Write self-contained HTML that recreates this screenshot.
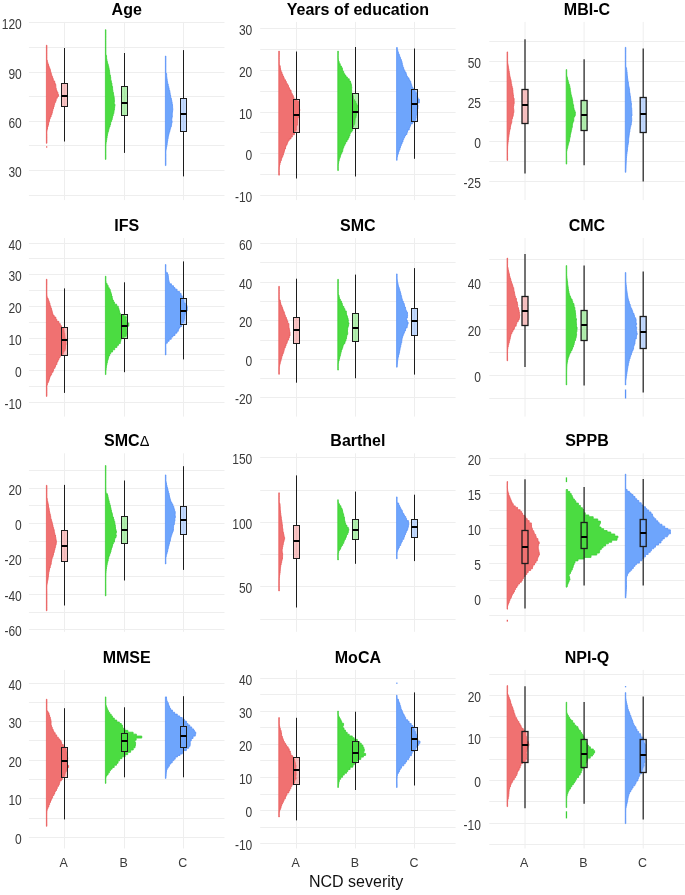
<!DOCTYPE html>
<html><head><meta charset="utf-8"><style>
html,body{margin:0;padding:0;background:#fff;}
body{width:685px;height:895px;overflow:hidden;font-family:"Liberation Sans",sans-serif;}
svg{display:block;filter:blur(0.3px);}
</style></head><body>
<svg width="685" height="895" viewBox="0 0 685 895">
<rect width="685" height="895" fill="#fff"/>
<line x1="28.9" x2="224.5" y1="195.5" y2="195.5" stroke="#EEEEEE" stroke-width="1"/><line x1="28.9" x2="224.5" y1="145.5" y2="145.5" stroke="#EEEEEE" stroke-width="1"/><line x1="28.9" x2="224.5" y1="96.5" y2="96.5" stroke="#EEEEEE" stroke-width="1"/><line x1="28.9" x2="224.5" y1="47.5" y2="47.5" stroke="#EEEEEE" stroke-width="1"/><line x1="28.9" x2="224.5" y1="170.5" y2="170.5" stroke="#EEEEEE" stroke-width="1"/><line x1="28.9" x2="224.5" y1="121.5" y2="121.5" stroke="#EEEEEE" stroke-width="1"/><line x1="28.9" x2="224.5" y1="72.5" y2="72.5" stroke="#EEEEEE" stroke-width="1"/><line x1="28.9" x2="224.5" y1="22.5" y2="22.5" stroke="#EEEEEE" stroke-width="1"/><line x1="64.5" x2="64.5" y1="21.9" y2="200.1" stroke="#EEEEEE" stroke-width="1"/><line x1="124.5" x2="124.5" y1="21.9" y2="200.1" stroke="#EEEEEE" stroke-width="1"/><line x1="183.5" x2="183.5" y1="21.9" y2="200.1" stroke="#EEEEEE" stroke-width="1"/>
<text transform="translate(21.8,177.03) scale(0.865,1)" text-anchor="end" font-family="Liberation Sans, sans-serif" font-size="13.9" fill="#3a3a3a">30</text>
<text transform="translate(21.8,127.8) scale(0.865,1)" text-anchor="end" font-family="Liberation Sans, sans-serif" font-size="13.9" fill="#3a3a3a">60</text>
<text transform="translate(21.8,78.58) scale(0.865,1)" text-anchor="end" font-family="Liberation Sans, sans-serif" font-size="13.9" fill="#3a3a3a">90</text>
<text transform="translate(21.8,29.35) scale(0.865,1)" text-anchor="end" font-family="Liberation Sans, sans-serif" font-size="13.9" fill="#3a3a3a">120</text>
<text x="126.7" y="15" text-anchor="middle" font-family="Liberation Sans, sans-serif" font-weight="bold" font-size="16" fill="#000">Age</text>
<path d="M46.4,45.2 L46.9,45.2 L46.9,47.3 L46.9,47.3 L46.9,49.62 L46.9,49.62 L46.9,51.23 L46.9,51.23 L46.9,52.8 L46.9,52.8 L46.9,54.33 L46.9,54.33 L46.9,56.31 L46.9,56.31 L46.9,58.27 L46.88,58.27 L46.88,60.36 L47.35,60.36 L47.35,62.42 L47.89,62.42 L47.89,64.13 L48.51,64.13 L48.51,65.84 L49.07,65.84 L49.07,67.84 L49.83,67.84 L49.83,69.55 L50.38,69.55 L50.38,71.37 L50.72,71.37 L50.72,72.8 L51.24,72.8 L51.24,74.7 L51.79,74.7 L51.79,76.56 L52.59,76.56 L52.59,78.57 L53.28,78.57 L53.28,80.97 L54.66,80.97 L54.66,82.93 L55.12,82.93 L55.12,84.37 L55.78,84.37 L55.78,86.09 L55.83,86.09 L55.83,88.4 L56.3,88.4 L56.3,90.51 L56.99,90.51 L56.99,92.14 L57.88,92.14 L57.88,94.42 L58.56,94.42 L58.56,96.4 L57.31,96.4 L57.31,98.21 L56.21,98.21 L56.21,100.49 L55.7,100.49 L55.7,102.34 L54.69,102.34 L54.69,104.41 L54.15,104.41 L54.15,106.63 L53.51,106.63 L53.51,108.85 L52.77,108.85 L52.77,111.12 L52.27,111.12 L52.27,113.01 L51.92,113.01 L51.92,114.7 L51.09,114.7 L51.09,116.99 L50.11,116.99 L50.11,119.09 L49.44,119.09 L49.44,121.43 L48.83,121.43 L48.83,123.26 L48.52,123.26 L48.52,125.13 L48.03,125.13 L48.03,126.89 L47.52,126.89 L47.52,129.21 L47.03,129.21 L47.03,131.41 L46.81,131.41 L46.81,133.66 L46.89,133.66 L46.89,135.28 L46.9,135.28 L46.9,136.71 L46.9,136.71 L46.9,138.3 L46.9,138.3 L46.9,139.71 L46.9,139.71 L46.9,141.32 L46.9,141.32 L46.9,143.3 L46.4,143.3Z" fill="#F07171" stroke="#E95C5C" stroke-width="0.8" stroke-linejoin="round"/>
<rect x="46" y="146.3" width="1.3" height="1.3" fill="#E95C5C"/>
<line x1="64.5" x2="64.5" y1="48" y2="83.5" stroke="#1c1c1c" stroke-width="1"/>
<line x1="64.5" x2="64.5" y1="106.5" y2="141.5" stroke="#1c1c1c" stroke-width="1"/>
<rect x="61.5" y="83.5" width="6" height="23" fill="#F07171" fill-opacity="0.42" stroke="#1c1c1c" stroke-width="1"/>
<line x1="61.5" x2="67.5" y1="96" y2="96" stroke="#000" stroke-width="2"/>
<path d="M105.4,29.7 L105.9,29.7 L105.9,31.32 L105.89,31.32 L105.89,33.19 L105.89,33.19 L105.89,35.37 L105.88,35.37 L105.88,36.98 L105.88,36.98 L105.88,38.59 L105.87,38.59 L105.87,40.47 L105.87,40.47 L105.87,42.72 L105.86,42.72 L105.86,44.95 L105.86,44.95 L105.86,46.42 L105.86,46.42 L105.86,48.12 L105.87,48.12 L105.87,49.95 L105.88,49.95 L105.88,52.01 L105.89,52.01 L105.89,54.06 L105.97,54.06 L105.97,55.54 L106.54,55.54 L106.54,57.31 L106.6,57.31 L106.6,59.16 L106.89,59.16 L106.89,61.26 L107.34,61.26 L107.34,62.85 L107.7,62.85 L107.7,64.39 L108.27,64.39 L108.27,66.23 L108.69,66.23 L108.69,67.66 L109.06,67.66 L109.06,69.82 L109.41,69.82 L109.41,71.31 L109.62,71.31 L109.62,73.3 L109.82,73.3 L109.82,75.1 L110.38,75.1 L110.38,76.99 L110.7,76.99 L110.7,79.19 L110.78,79.19 L110.78,80.7 L111.31,80.7 L111.31,83 L111.89,83 L111.89,84.81 L111.95,84.81 L111.95,86.43 L112.55,86.43 L112.55,88.64 L112.64,88.64 L112.64,90.09 L112.83,90.09 L112.83,92.43 L113.45,92.43 L113.45,94.65 L113.78,94.65 L113.78,96.6 L114.14,96.6 L114.14,98.27 L114.3,98.27 L114.3,99.76 L114.39,99.76 L114.39,101.98 L114.2,101.98 L114.2,104.19 L114.93,104.19 L114.93,106.36 L114.59,106.36 L114.59,108.16 L114.4,108.16 L114.4,109.99 L114.07,109.99 L114.07,111.52 L113.89,111.52 L113.89,113.56 L113.19,113.56 L113.19,115.79 L112.55,115.79 L112.55,117.81 L112.17,117.81 L112.17,119.72 L111.55,119.72 L111.55,121.46 L110.74,121.46 L110.74,123.39 L110.54,123.39 L110.54,124.91 L109.92,124.91 L109.92,127.02 L109.13,127.02 L109.13,128.7 L108.78,128.7 L108.78,130.46 L108.32,130.46 L108.32,132.05 L107.82,132.05 L107.82,133.66 L107.43,133.66 L107.43,135.7 L107.06,135.7 L107.06,138.02 L106.71,138.02 L106.71,140.3 L106.39,140.3 L106.39,142.06 L106.04,142.06 L106.04,144.29 L105.92,144.29 L105.92,145.82 L105.89,145.82 L105.89,147.3 L105.87,147.3 L105.87,149.08 L105.86,149.08 L105.86,151.02 L105.87,151.02 L105.87,153.39 L105.87,153.39 L105.87,155 L105.88,155 L105.88,157.19 L105.89,157.19 L105.89,159.19 L105.9,159.19 L105.9,159.4 L105.4,159.4Z" fill="#4BDC41" stroke="#3CCF36" stroke-width="0.8" stroke-linejoin="round"/>
<line x1="124.5" x2="124.5" y1="53" y2="86.5" stroke="#1c1c1c" stroke-width="1"/>
<line x1="124.5" x2="124.5" y1="115.5" y2="152.9" stroke="#1c1c1c" stroke-width="1"/>
<rect x="121.5" y="86.5" width="6" height="29" fill="#4BDC41" fill-opacity="0.42" stroke="#1c1c1c" stroke-width="1"/>
<line x1="121.5" x2="127.5" y1="103" y2="103" stroke="#000" stroke-width="2"/>
<path d="M165.4,56 L165.89,56 L165.89,58.38 L165.88,58.38 L165.88,60.65 L165.87,60.65 L165.87,62.65 L165.86,62.65 L165.86,64.83 L165.86,64.83 L165.86,67.09 L165.85,67.09 L165.85,69.25 L165.87,69.25 L165.87,71.19 L165.89,71.19 L165.89,73.53 L166.64,73.53 L166.64,75.35 L166.66,75.35 L166.66,76.9 L166.83,76.9 L166.83,78.82 L167.13,78.82 L167.13,80.9 L167.38,80.9 L167.38,82.39 L167.69,82.39 L167.69,84.07 L168.2,84.07 L168.2,86.46 L168.78,86.46 L168.78,88.26 L169.13,88.26 L169.13,90.52 L169.82,90.52 L169.82,92.83 L170.12,92.83 L170.12,95.01 L170.59,95.01 L170.59,96.91 L170.77,96.91 L170.77,98.35 L171.39,98.35 L171.39,100.12 L171.74,100.12 L171.74,101.89 L172.08,101.89 L172.08,104.28 L172.53,104.28 L172.53,106.13 L172.6,106.13 L172.6,108.29 L172.77,108.29 L172.77,110.51 L172.54,110.51 L172.54,111.98 L172.35,111.98 L172.35,113.57 L172.23,113.57 L172.23,115.12 L172.28,115.12 L172.28,117.06 L172.01,117.06 L172.01,118.62 L171.74,118.62 L171.74,120.86 L172.07,120.86 L172.07,122.74 L171.63,122.74 L171.63,124.78 L171.37,124.78 L171.37,126.64 L170.67,126.64 L170.67,128.4 L170.13,128.4 L170.13,130.32 L169.71,130.32 L169.71,132.15 L169.05,132.15 L169.05,134.38 L168.57,134.38 L168.57,136.28 L168.15,136.28 L168.15,138.53 L167.72,138.53 L167.72,140.9 L167.4,140.9 L167.4,142.64 L167.15,142.64 L167.15,144.81 L166.77,144.81 L166.77,146.95 L166.39,146.95 L166.39,148.78 L166.1,148.78 L166.1,150.3 L165.88,150.3 L165.88,151.92 L165.84,151.92 L165.84,153.87 L165.9,153.87 L165.9,156.14 L165.9,156.14 L165.9,157.68 L165.9,157.68 L165.9,159.24 L165.9,159.24 L165.9,160.78 L165.9,160.78 L165.9,162.63 L165.9,162.63 L165.9,164.25 L165.9,164.25 L165.9,165.6 L165.4,165.6Z" fill="#6EA5FC" stroke="#5B93F7" stroke-width="0.8" stroke-linejoin="round"/>
<line x1="183.5" x2="183.5" y1="50.1" y2="98.5" stroke="#1c1c1c" stroke-width="1"/>
<line x1="183.5" x2="183.5" y1="131.5" y2="176.4" stroke="#1c1c1c" stroke-width="1"/>
<rect x="180.5" y="98.5" width="6" height="33" fill="#6EA5FC" fill-opacity="0.42" stroke="#1c1c1c" stroke-width="1"/>
<line x1="180.5" x2="186.5" y1="114" y2="114" stroke="#000" stroke-width="2"/>
<line x1="260.2" x2="455.6" y1="174.5" y2="174.5" stroke="#EEEEEE" stroke-width="1"/><line x1="260.2" x2="455.6" y1="132.5" y2="132.5" stroke="#EEEEEE" stroke-width="1"/><line x1="260.2" x2="455.6" y1="91.5" y2="91.5" stroke="#EEEEEE" stroke-width="1"/><line x1="260.2" x2="455.6" y1="49.5" y2="49.5" stroke="#EEEEEE" stroke-width="1"/><line x1="260.2" x2="455.6" y1="195.5" y2="195.5" stroke="#EEEEEE" stroke-width="1"/><line x1="260.2" x2="455.6" y1="153.5" y2="153.5" stroke="#EEEEEE" stroke-width="1"/><line x1="260.2" x2="455.6" y1="112.5" y2="112.5" stroke="#EEEEEE" stroke-width="1"/><line x1="260.2" x2="455.6" y1="70.5" y2="70.5" stroke="#EEEEEE" stroke-width="1"/><line x1="260.2" x2="455.6" y1="28.5" y2="28.5" stroke="#EEEEEE" stroke-width="1"/><line x1="296.5" x2="296.5" y1="21.9" y2="200.1" stroke="#EEEEEE" stroke-width="1"/><line x1="355.5" x2="355.5" y1="21.9" y2="200.1" stroke="#EEEEEE" stroke-width="1"/><line x1="414.5" x2="414.5" y1="21.9" y2="200.1" stroke="#EEEEEE" stroke-width="1"/>
<text transform="translate(252.3,201.93) scale(0.865,1)" text-anchor="end" font-family="Liberation Sans, sans-serif" font-size="13.9" fill="#3a3a3a">-10</text>
<text transform="translate(252.3,160.23) scale(0.865,1)" text-anchor="end" font-family="Liberation Sans, sans-serif" font-size="13.9" fill="#3a3a3a">0</text>
<text transform="translate(252.3,118.53) scale(0.865,1)" text-anchor="end" font-family="Liberation Sans, sans-serif" font-size="13.9" fill="#3a3a3a">10</text>
<text transform="translate(252.3,76.82) scale(0.865,1)" text-anchor="end" font-family="Liberation Sans, sans-serif" font-size="13.9" fill="#3a3a3a">20</text>
<text transform="translate(252.3,35.12) scale(0.865,1)" text-anchor="end" font-family="Liberation Sans, sans-serif" font-size="13.9" fill="#3a3a3a">30</text>
<text x="357.9" y="15" text-anchor="middle" font-family="Liberation Sans, sans-serif" font-weight="bold" font-size="16" fill="#000">Years of education</text>
<path d="M278.8,51.1 L279.29,51.1 L279.29,52.92 L279.28,52.92 L279.28,55.15 L279.26,55.15 L279.26,57.35 L279.25,57.35 L279.25,59.65 L279.24,59.65 L279.24,61.23 L279.26,61.23 L279.26,63.44 L279.3,63.44 L279.3,65.67 L280.2,65.67 L280.2,67.83 L280.47,67.83 L280.47,69.83 L280.97,69.83 L280.97,71.92 L281.87,71.92 L281.87,74.1 L282.65,74.1 L282.65,76 L283.53,76 L283.53,77.7 L284.23,77.7 L284.23,79.78 L285.53,79.78 L285.53,81.53 L286.36,81.53 L286.36,83.85 L287.68,83.85 L287.68,85.45 L288.51,85.45 L288.51,87.79 L289.56,87.79 L289.56,89.96 L291.02,89.96 L291.02,92.16 L291.26,92.16 L291.26,93.73 L292.33,93.73 L292.33,95.62 L293.3,95.62 L293.3,97.32 L293.88,97.32 L293.88,99.23 L297.08,99.23 L297.08,101.39 L298.76,101.39 L298.76,102.99 L298.62,102.99 L298.62,105.05 L299.18,105.05 L299.18,106.94 L298.89,106.94 L298.89,109.31 L299.77,109.31 L299.77,110.72 L299.28,110.72 L299.28,112.24 L299.2,112.24 L299.2,113.72 L299.48,113.72 L299.48,115.93 L298.88,115.93 L298.88,117.43 L297.8,117.43 L297.8,119.73 L297.43,119.73 L297.43,121.16 L297.47,121.16 L297.47,123.15 L297.42,123.15 L297.42,125.23 L296.47,125.23 L296.47,126.76 L296.29,126.76 L296.29,128.55 L296.35,128.55 L296.35,130.33 L295.15,130.33 L295.15,132.65 L294.42,132.65 L294.42,134.75 L292.31,134.75 L292.31,137.02 L290.95,137.02 L290.95,138.95 L289.28,138.95 L289.28,140.38 L288.22,140.38 L288.22,141.78 L287.63,141.78 L287.63,143.29 L287,143.29 L287,145.1 L285.96,145.1 L285.96,146.74 L285.53,146.74 L285.53,149.02 L284.49,149.02 L284.49,151.29 L284.1,151.29 L284.1,152.77 L283.41,152.77 L283.41,155.04 L282.76,155.04 L282.76,156.71 L282.07,156.71 L282.07,158.23 L281.39,158.23 L281.39,160.52 L280.55,160.52 L280.55,162.64 L279.94,162.64 L279.94,165.02 L279.52,165.02 L279.52,166.78 L279.29,166.78 L279.29,168.93 L279.22,168.93 L279.22,170.44 L279.23,170.44 L279.23,172.65 L279.26,172.65 L279.26,174.17 L279.29,174.17 L279.29,175.2 L278.8,175.2Z" fill="#F07171" stroke="#E95C5C" stroke-width="0.8" stroke-linejoin="round"/>
<line x1="296.5" x2="296.5" y1="51.5" y2="99.5" stroke="#1c1c1c" stroke-width="1"/>
<line x1="296.5" x2="296.5" y1="132.5" y2="178.5" stroke="#1c1c1c" stroke-width="1"/>
<rect x="293.5" y="99.5" width="6" height="33" fill="#F07171" fill-opacity="0.42" stroke="#1c1c1c" stroke-width="1"/>
<line x1="293.5" x2="299.5" y1="115" y2="115" stroke="#000" stroke-width="2"/>
<path d="M337.8,51.1 L338.28,51.1 L338.28,53.2 L338.24,53.2 L338.24,55.52 L338.21,55.52 L338.21,57.72 L338.27,57.72 L338.27,59.57 L338.48,59.57 L338.48,61.41 L339.19,61.41 L339.19,63.66 L340.21,63.66 L340.21,66.01 L341.43,66.01 L341.43,67.85 L342.38,67.85 L342.38,70.01 L342.72,70.01 L342.72,71.51 L343.72,71.51 L343.72,73.83 L344.9,73.83 L344.9,75.56 L346.02,75.56 L346.02,77.02 L347.36,77.02 L347.36,78.79 L349.21,78.79 L349.21,81.02 L350.48,81.02 L350.48,82.64 L350.99,82.64 L350.99,84.38 L351.44,84.38 L351.44,86.69 L351.71,86.69 L351.71,88.34 L351.59,88.34 L351.59,89.84 L351.65,89.84 L351.65,91.26 L351.55,91.26 L351.55,93.33 L352.72,93.33 L352.72,95.67 L353.26,95.67 L353.26,97.54 L353.45,97.54 L353.45,99.67 L354.54,99.67 L354.54,101.29 L355.79,101.29 L355.79,103.64 L356.75,103.64 L356.75,105.3 L357.76,105.3 L357.76,107.49 L357.31,107.49 L357.31,109.6 L357.23,109.6 L357.23,111.84 L356.7,111.84 L356.7,113.95 L356.3,113.95 L356.3,115.82 L355.98,115.82 L355.98,117.85 L355.1,117.85 L355.1,119.51 L354.95,119.51 L354.95,121.5 L354.77,121.5 L354.77,123.53 L354.28,123.53 L354.28,125.12 L353.59,125.12 L353.59,126.73 L352.65,126.73 L352.65,128.45 L352.66,128.45 L352.66,130.63 L351.77,130.63 L351.77,132.09 L350.42,132.09 L350.42,133.58 L349.83,133.58 L349.83,135.93 L348.99,135.93 L348.99,137.96 L348.12,137.96 L348.12,139.64 L347.04,139.64 L347.04,141.65 L345.65,141.65 L345.65,143.69 L344.87,143.69 L344.87,145.35 L343.91,145.35 L343.91,147.41 L343.12,147.41 L343.12,149.29 L342.72,149.29 L342.72,151.52 L341.95,151.52 L341.95,153.3 L341,153.3 L341,155.23 L340.33,155.23 L340.33,157.35 L339.68,157.35 L339.68,158.76 L339.19,158.76 L339.19,160.81 L338.73,160.81 L338.73,162.69 L338.45,162.69 L338.45,164.12 L338.26,164.12 L338.26,166.47 L338.22,166.47 L338.22,168.24 L338.26,168.24 L338.26,169.96 L338.29,169.96 L338.29,170.6 L337.8,170.6Z" fill="#4BDC41" stroke="#3CCF36" stroke-width="0.8" stroke-linejoin="round"/>
<line x1="355.5" x2="355.5" y1="47" y2="93.5" stroke="#1c1c1c" stroke-width="1"/>
<line x1="355.5" x2="355.5" y1="128.5" y2="176.5" stroke="#1c1c1c" stroke-width="1"/>
<rect x="352.5" y="93.5" width="6" height="35" fill="#4BDC41" fill-opacity="0.42" stroke="#1c1c1c" stroke-width="1"/>
<line x1="352.5" x2="358.5" y1="112" y2="112" stroke="#000" stroke-width="2"/>
<path d="M396.6,47.5 L397.27,47.5 L397.27,49.65 L397.7,49.65 L397.7,51.86 L398.36,51.86 L398.36,53.95 L399.2,53.95 L399.2,55.72 L399.79,55.72 L399.79,57.48 L400.54,57.48 L400.54,59.52 L401.37,59.52 L401.37,61.16 L401.91,61.16 L401.91,62.92 L402.26,62.92 L402.26,65.23 L402.85,65.23 L402.85,67.38 L403.64,67.38 L403.64,69.18 L404.11,69.18 L404.11,70.72 L405.07,70.72 L405.07,72.52 L406.1,72.52 L406.1,74.21 L406.54,74.21 L406.54,76.08 L407.38,76.08 L407.38,77.86 L408.95,77.86 L408.95,79.85 L409.75,79.85 L409.75,81.29 L410.76,81.29 L410.76,83.05 L411.06,83.05 L411.06,84.67 L411.73,84.67 L411.73,86.92 L412.69,86.92 L412.69,88.79 L414.02,88.79 L414.02,90.69 L415.12,90.69 L415.12,92.69 L416.63,92.69 L416.63,94.12 L416.37,94.12 L416.37,96.03 L417,96.03 L417,97.5 L418.03,97.5 L418.03,99.17 L419.33,99.17 L419.33,101.34 L419.32,101.34 L419.32,102.91 L417.44,102.91 L417.44,104.82 L417.97,104.82 L417.97,107.06 L417.85,107.06 L417.85,108.98 L417.29,108.98 L417.29,111.23 L416.87,111.23 L416.87,113.57 L416.58,113.57 L416.58,115.24 L416.02,115.24 L416.02,116.73 L416.04,116.73 L416.04,118.27 L415.51,118.27 L415.51,120.42 L414.11,120.42 L414.11,122.04 L412.38,122.04 L412.38,123.91 L410.54,123.91 L410.54,126.18 L409.69,126.18 L409.69,127.97 L409.16,127.97 L409.16,130.02 L407.52,130.02 L407.52,132.13 L406.92,132.13 L406.92,134.52 L405.51,134.52 L405.51,136.04 L404.55,136.04 L404.55,137.83 L403.69,137.83 L403.69,139.62 L402.94,139.62 L402.94,141.97 L402.02,141.97 L402.02,143.98 L401.18,143.98 L401.18,145.87 L400.5,145.87 L400.5,147.63 L399.88,147.63 L399.88,149.83 L399.09,149.83 L399.09,151.67 L398.41,151.67 L398.41,153.77 L397.88,153.77 L397.88,155.21 L397.45,155.21 L397.45,156.9 L397.09,156.9 L397.09,158.5 L397.02,158.5 L397.02,160.04 L397.09,160.04 L397.09,160.3 L396.6,160.3Z" fill="#6EA5FC" stroke="#5B93F7" stroke-width="0.8" stroke-linejoin="round"/>
<line x1="414.5" x2="414.5" y1="48.5" y2="89.5" stroke="#1c1c1c" stroke-width="1"/>
<line x1="414.5" x2="414.5" y1="121.5" y2="158.8" stroke="#1c1c1c" stroke-width="1"/>
<rect x="411.5" y="89.5" width="6" height="32" fill="#6EA5FC" fill-opacity="0.42" stroke="#1c1c1c" stroke-width="1"/>
<line x1="411.5" x2="417.5" y1="104" y2="104" stroke="#000" stroke-width="2"/>
<line x1="489.3" x2="684.6" y1="161.5" y2="161.5" stroke="#EEEEEE" stroke-width="1"/><line x1="489.3" x2="684.6" y1="121.5" y2="121.5" stroke="#EEEEEE" stroke-width="1"/><line x1="489.3" x2="684.6" y1="81.5" y2="81.5" stroke="#EEEEEE" stroke-width="1"/><line x1="489.3" x2="684.6" y1="41.5" y2="41.5" stroke="#EEEEEE" stroke-width="1"/><line x1="489.3" x2="684.6" y1="181.5" y2="181.5" stroke="#EEEEEE" stroke-width="1"/><line x1="489.3" x2="684.6" y1="141.5" y2="141.5" stroke="#EEEEEE" stroke-width="1"/><line x1="489.3" x2="684.6" y1="101.5" y2="101.5" stroke="#EEEEEE" stroke-width="1"/><line x1="489.3" x2="684.6" y1="61.5" y2="61.5" stroke="#EEEEEE" stroke-width="1"/><line x1="525" x2="525" y1="21.9" y2="200.1" stroke="#EEEEEE" stroke-width="1"/><line x1="584.1" x2="584.1" y1="21.9" y2="200.1" stroke="#EEEEEE" stroke-width="1"/><line x1="643.2" x2="643.2" y1="21.9" y2="200.1" stroke="#EEEEEE" stroke-width="1"/>
<text transform="translate(481,187.88) scale(0.865,1)" text-anchor="end" font-family="Liberation Sans, sans-serif" font-size="13.9" fill="#3a3a3a">-25</text>
<text transform="translate(481,147.87) scale(0.865,1)" text-anchor="end" font-family="Liberation Sans, sans-serif" font-size="13.9" fill="#3a3a3a">0</text>
<text transform="translate(481,107.86) scale(0.865,1)" text-anchor="end" font-family="Liberation Sans, sans-serif" font-size="13.9" fill="#3a3a3a">25</text>
<text transform="translate(481,67.86) scale(0.865,1)" text-anchor="end" font-family="Liberation Sans, sans-serif" font-size="13.9" fill="#3a3a3a">50</text>
<text x="586.95" y="15" text-anchor="middle" font-family="Liberation Sans, sans-serif" font-weight="bold" font-size="16" fill="#000">MBI-C</text>
<path d="M507.1,51.9 L507.6,51.9 L507.6,53.64 L507.6,53.64 L507.6,55.87 L507.6,55.87 L507.6,58.25 L507.6,58.25 L507.6,60.25 L507.6,60.25 L507.6,62.6 L507.78,62.6 L507.78,64.24 L508.05,64.24 L508.05,65.7 L508.31,65.7 L508.31,67.22 L508.56,67.22 L508.56,68.73 L508.85,68.73 L508.85,71.07 L509.2,71.07 L509.2,72.78 L509.44,72.78 L509.44,74.51 L509.76,74.51 L509.76,76.02 L509.98,76.02 L509.98,77.61 L510.38,77.61 L510.38,79.57 L511.02,79.57 L511.02,81.81 L511.23,81.81 L511.23,83.89 L511.68,83.89 L511.68,86.16 L512.15,86.16 L512.15,88.01 L512.66,88.01 L512.66,90.1 L512.89,90.1 L512.89,91.91 L512.95,91.91 L512.95,93.33 L513.13,93.33 L513.13,94.95 L513.43,94.95 L513.43,96.43 L513.46,96.43 L513.46,98.28 L514.1,98.28 L514.1,100.03 L514.07,100.03 L514.07,101.72 L514.17,101.72 L514.17,103.67 L513.83,103.67 L513.83,105.85 L513.52,105.85 L513.52,107.38 L513.58,107.38 L513.58,109.38 L513.82,109.38 L513.82,111.22 L513.87,111.22 L513.87,112.66 L513.33,112.66 L513.33,114.85 L513.17,114.85 L513.17,116.38 L512.51,116.38 L512.51,118.64 L511.83,118.64 L511.83,120.34 L511.76,120.34 L511.76,122.7 L511.23,122.7 L511.23,124.16 L510.81,124.16 L510.81,125.65 L510.49,125.65 L510.49,127.15 L510.29,127.15 L510.29,128.92 L509.93,128.92 L509.93,130.43 L509.56,130.43 L509.56,132.14 L509.22,132.14 L509.22,134.33 L508.92,134.33 L508.92,136.68 L508.64,136.68 L508.64,138.55 L508.43,138.55 L508.43,139.95 L508.2,139.95 L508.2,142.1 L507.92,142.1 L507.92,144.44 L507.73,144.44 L507.73,146.28 L507.61,146.28 L507.61,148.13 L507.58,148.13 L507.58,149.73 L507.56,149.73 L507.56,151.17 L507.54,151.17 L507.54,152.94 L507.55,152.94 L507.55,155.27 L507.57,155.27 L507.57,157.63 L507.59,157.63 L507.59,160.03 L507.6,160.03 L507.6,160.4 L507.1,160.4Z" fill="#F07171" stroke="#E95C5C" stroke-width="0.8" stroke-linejoin="round"/>
<line x1="525" x2="525" y1="39.3" y2="89.5" stroke="#1c1c1c" stroke-width="1.2"/>
<line x1="525" x2="525" y1="123.5" y2="173.5" stroke="#1c1c1c" stroke-width="1.2"/>
<rect x="522" y="89.5" width="6" height="34" fill="#F07171" fill-opacity="0.42" stroke="#1c1c1c" stroke-width="1.3"/>
<line x1="522" x2="528" y1="105" y2="105" stroke="#000" stroke-width="2"/>
<path d="M566.2,69.6 L566.7,69.6 L566.7,71.13 L566.7,71.13 L566.7,72.6 L566.7,72.6 L566.7,74.09 L566.7,74.09 L566.7,75.72 L566.98,75.72 L566.98,77.58 L567.47,77.58 L567.47,79.86 L568.08,79.86 L568.08,82.03 L568.63,82.03 L568.63,83.99 L569.26,83.99 L569.26,85.65 L569.8,85.65 L569.8,87.88 L570.19,87.88 L570.19,89.66 L570.37,89.66 L570.37,91.64 L570.81,91.64 L570.81,93.52 L571.01,93.52 L571.01,94.96 L571.35,94.96 L571.35,96.72 L571.96,96.72 L571.96,98.66 L572.34,98.66 L572.34,100.84 L572.75,100.84 L572.75,102.81 L572.91,102.81 L572.91,104.75 L573.59,104.75 L573.59,106.52 L573.65,106.52 L573.65,107.92 L573.98,107.92 L573.98,109.98 L574.69,109.98 L574.69,111.83 L575.34,111.83 L575.34,113.76 L575.26,113.76 L575.26,115.65 L574.61,115.65 L574.61,117.05 L573.78,117.05 L573.78,119.1 L573.78,119.1 L573.78,121.29 L573.01,121.29 L573.01,123.3 L572.41,123.3 L572.41,125.58 L572.3,125.58 L572.3,127.41 L571.76,127.41 L571.76,129.62 L571.29,129.62 L571.29,131.48 L570.96,131.48 L570.96,133.46 L570.44,133.46 L570.44,134.98 L570.23,134.98 L570.23,137.24 L569.72,137.24 L569.72,139.26 L569.52,139.26 L569.52,141.28 L568.86,141.28 L568.86,143.31 L568.27,143.31 L568.27,145.34 L567.79,145.34 L567.79,147.51 L567.31,147.51 L567.31,149.11 L566.93,149.11 L566.93,151.01 L566.68,151.01 L566.68,152.47 L566.61,152.47 L566.61,154.03 L566.65,154.03 L566.65,156.37 L566.7,156.37 L566.7,158.62 L566.7,158.62 L566.7,160.19 L566.7,160.19 L566.7,161.92 L566.7,161.92 L566.7,163.39 L566.7,163.39 L566.7,164.1 L566.2,164.1Z" fill="#4BDC41" stroke="#3CCF36" stroke-width="0.8" stroke-linejoin="round"/>
<line x1="584.1" x2="584.1" y1="59.2" y2="100.5" stroke="#1c1c1c" stroke-width="1.2"/>
<line x1="584.1" x2="584.1" y1="130.5" y2="165.3" stroke="#1c1c1c" stroke-width="1.2"/>
<rect x="581.1" y="100.5" width="6" height="30" fill="#4BDC41" fill-opacity="0.42" stroke="#1c1c1c" stroke-width="1.3"/>
<line x1="581.1" x2="587.1" y1="115" y2="115" stroke="#000" stroke-width="2"/>
<path d="M625.3,47.3 L625.8,47.3 L625.8,49.42 L625.79,49.42 L625.79,51.02 L625.79,51.02 L625.79,52.55 L625.78,52.55 L625.78,54.59 L625.78,54.59 L625.78,56.03 L625.77,56.03 L625.77,57.98 L625.77,57.98 L625.77,59.62 L625.76,59.62 L625.76,61.24 L625.77,61.24 L625.77,62.72 L625.78,62.72 L625.78,64.34 L625.79,64.34 L625.79,66.2 L625.84,66.2 L625.84,67.72 L626.57,67.72 L626.57,69.76 L626.83,69.76 L626.83,72 L627.09,72 L627.09,74.3 L627.24,74.3 L627.24,76.15 L627.49,76.15 L627.49,78.47 L627.78,78.47 L627.78,80.3 L627.97,80.3 L627.97,82.12 L628.39,82.12 L628.39,84.51 L628.67,84.51 L628.67,86.71 L629.11,86.71 L629.11,88.7 L629.52,88.7 L629.52,90.69 L629.6,90.69 L629.6,92.79 L629.96,92.79 L629.96,94.38 L630.12,94.38 L630.12,96.26 L630.53,96.26 L630.53,98.49 L630.74,98.49 L630.74,100.83 L631.06,100.83 L631.06,103.13 L631.44,103.13 L631.44,105.45 L631.33,105.45 L631.33,107.72 L631.71,107.72 L631.71,109.89 L631.82,109.89 L631.82,111.86 L631.85,111.86 L631.85,113.93 L631.97,113.93 L631.97,116.01 L631.49,116.01 L631.49,117.49 L631.68,117.49 L631.68,119.47 L631.75,119.47 L631.75,121.03 L631.5,121.03 L631.5,122.63 L631.24,122.63 L631.24,124.88 L630.78,124.88 L630.78,126.62 L630.29,126.62 L630.29,128.53 L629.95,128.53 L629.95,130.42 L629.81,130.42 L629.81,132.05 L629.44,132.05 L629.44,133.49 L629.22,133.49 L629.22,135.24 L628.99,135.24 L628.99,137.5 L628.68,137.5 L628.68,139.48 L628.6,139.48 L628.6,140.94 L628.46,140.94 L628.46,143.3 L628.15,143.3 L628.15,144.84 L627.84,144.84 L627.84,146.9 L627.6,146.9 L627.6,148.4 L627.48,148.4 L627.48,150.47 L627.17,150.47 L627.17,152 L626.95,152 L626.95,154.12 L626.71,154.12 L626.71,156.33 L626.51,156.33 L626.51,158.26 L626.37,158.26 L626.37,160.16 L626.26,160.16 L626.26,161.77 L626.18,161.77 L626.18,163.53 L626.09,163.53 L626.09,165.5 L626.01,165.5 L626.01,167.88 L625.93,167.88 L625.93,169.49 L625.87,169.49 L625.87,171.16 L625.82,171.16 L625.82,172.3 L625.3,172.3Z" fill="#6EA5FC" stroke="#5B93F7" stroke-width="0.8" stroke-linejoin="round"/>
<line x1="643.2" x2="643.2" y1="48.5" y2="97.5" stroke="#1c1c1c" stroke-width="1.2"/>
<line x1="643.2" x2="643.2" y1="132.5" y2="181.6" stroke="#1c1c1c" stroke-width="1.2"/>
<rect x="640.2" y="97.5" width="6" height="35" fill="#6EA5FC" fill-opacity="0.42" stroke="#1c1c1c" stroke-width="1.3"/>
<line x1="640.2" x2="646.2" y1="114" y2="114" stroke="#000" stroke-width="2"/>
<line x1="28.9" x2="224.5" y1="386.5" y2="386.5" stroke="#EEEEEE" stroke-width="1"/><line x1="28.9" x2="224.5" y1="354.5" y2="354.5" stroke="#EEEEEE" stroke-width="1"/><line x1="28.9" x2="224.5" y1="322.5" y2="322.5" stroke="#EEEEEE" stroke-width="1"/><line x1="28.9" x2="224.5" y1="290.5" y2="290.5" stroke="#EEEEEE" stroke-width="1"/><line x1="28.9" x2="224.5" y1="258.5" y2="258.5" stroke="#EEEEEE" stroke-width="1"/><line x1="28.9" x2="224.5" y1="402.5" y2="402.5" stroke="#EEEEEE" stroke-width="1"/><line x1="28.9" x2="224.5" y1="370.5" y2="370.5" stroke="#EEEEEE" stroke-width="1"/><line x1="28.9" x2="224.5" y1="338.5" y2="338.5" stroke="#EEEEEE" stroke-width="1"/><line x1="28.9" x2="224.5" y1="306.5" y2="306.5" stroke="#EEEEEE" stroke-width="1"/><line x1="28.9" x2="224.5" y1="274.5" y2="274.5" stroke="#EEEEEE" stroke-width="1"/><line x1="28.9" x2="224.5" y1="243.5" y2="243.5" stroke="#EEEEEE" stroke-width="1"/><line x1="64.5" x2="64.5" y1="238" y2="416.6" stroke="#EEEEEE" stroke-width="1"/><line x1="124.5" x2="124.5" y1="238" y2="416.6" stroke="#EEEEEE" stroke-width="1"/><line x1="183.5" x2="183.5" y1="238" y2="416.6" stroke="#EEEEEE" stroke-width="1"/>
<text transform="translate(21.8,408.76) scale(0.865,1)" text-anchor="end" font-family="Liberation Sans, sans-serif" font-size="13.9" fill="#3a3a3a">-10</text>
<text transform="translate(21.8,376.92) scale(0.865,1)" text-anchor="end" font-family="Liberation Sans, sans-serif" font-size="13.9" fill="#3a3a3a">0</text>
<text transform="translate(21.8,345.08) scale(0.865,1)" text-anchor="end" font-family="Liberation Sans, sans-serif" font-size="13.9" fill="#3a3a3a">10</text>
<text transform="translate(21.8,313.24) scale(0.865,1)" text-anchor="end" font-family="Liberation Sans, sans-serif" font-size="13.9" fill="#3a3a3a">20</text>
<text transform="translate(21.8,281.41) scale(0.865,1)" text-anchor="end" font-family="Liberation Sans, sans-serif" font-size="13.9" fill="#3a3a3a">30</text>
<text transform="translate(21.8,249.57) scale(0.865,1)" text-anchor="end" font-family="Liberation Sans, sans-serif" font-size="13.9" fill="#3a3a3a">40</text>
<text x="126.7" y="231.1" text-anchor="middle" font-family="Liberation Sans, sans-serif" font-weight="bold" font-size="16" fill="#000">IFS</text>
<path d="M46.4,279.2 L46.89,279.2 L46.89,281.3 L46.87,281.3 L46.87,282.98 L46.86,282.98 L46.86,285.36 L46.84,285.36 L46.84,286.78 L46.83,286.78 L46.83,288.61 L46.82,288.61 L46.82,290.91 L46.84,290.91 L46.84,292.55 L46.87,292.55 L46.87,294.27 L46.92,294.27 L46.92,296.4 L47.17,296.4 L47.17,298.06 L48.06,298.06 L48.06,299.73 L48.65,299.73 L48.65,301.22 L49.2,301.22 L49.2,302.91 L49.86,302.91 L49.86,304.95 L50.2,304.95 L50.2,306.48 L50.89,306.48 L50.89,308.33 L51.52,308.33 L51.52,309.79 L51.91,309.79 L51.91,311.63 L52.37,311.63 L52.37,313.69 L53.04,313.69 L53.04,315.57 L54.22,315.57 L54.22,317.12 L55.83,317.12 L55.83,319.41 L56.82,319.41 L56.82,321.36 L58.89,321.36 L58.89,323.65 L60.25,323.65 L60.25,325.75 L61.46,325.75 L61.46,327.81 L63.69,327.81 L63.69,329.56 L63.93,329.56 L63.93,331.03 L64.12,331.03 L64.12,333.23 L64.68,333.23 L64.68,335.28 L64.9,335.28 L64.9,337.03 L65.02,337.03 L65.02,338.74 L65.42,338.74 L65.42,340.98 L65.9,340.98 L65.9,342.7 L65.95,342.7 L65.95,344.93 L65.54,344.93 L65.54,347.24 L65.53,347.24 L65.53,348.65 L65.1,348.65 L65.1,350.6 L64.07,350.6 L64.07,352.01 L63.18,352.01 L63.18,354.24 L60.5,354.24 L60.5,356.34 L59.8,356.34 L59.8,358 L58.74,358 L58.74,360.03 L57.88,360.03 L57.88,361.76 L57.01,361.76 L57.01,363.28 L56.83,363.28 L56.83,364.72 L55.51,364.72 L55.51,366.82 L54.92,366.82 L54.92,368.34 L53.58,368.34 L53.58,370.7 L53.04,370.7 L53.04,372.29 L51.71,372.29 L51.71,374.5 L50.9,374.5 L50.9,375.93 L50.02,375.93 L50.02,377.57 L49.53,377.57 L49.53,379.24 L48.94,379.24 L48.94,381.31 L48.23,381.31 L48.23,382.82 L47.35,382.82 L47.35,385.15 L46.78,385.15 L46.78,387.22 L46.9,387.22 L46.9,389.14 L46.9,389.14 L46.9,391.5 L46.9,391.5 L46.9,393.83 L46.9,393.83 L46.9,395.42 L46.9,395.42 L46.9,396.4 L46.4,396.4Z" fill="#F07171" stroke="#E95C5C" stroke-width="0.8" stroke-linejoin="round"/>
<line x1="64.5" x2="64.5" y1="288.4" y2="327.5" stroke="#1c1c1c" stroke-width="1"/>
<line x1="64.5" x2="64.5" y1="355.5" y2="392.9" stroke="#1c1c1c" stroke-width="1"/>
<rect x="61.5" y="327.5" width="6" height="28" fill="#F07171" fill-opacity="0.42" stroke="#1c1c1c" stroke-width="1"/>
<line x1="61.5" x2="67.5" y1="340" y2="340" stroke="#000" stroke-width="2"/>
<path d="M105.4,276.2 L105.88,276.2 L105.88,277.95 L105.85,277.95 L105.85,279.51 L105.85,279.51 L105.85,281.4 L106.07,281.4 L106.07,283.59 L107.11,283.59 L107.11,285.41 L108.15,285.41 L108.15,287.78 L109.26,287.78 L109.26,289.46 L110.22,289.46 L110.22,291.84 L110.91,291.84 L110.91,293.79 L111.5,293.79 L111.5,296.02 L112.14,296.02 L112.14,298.22 L112.47,298.22 L112.47,300.07 L113.38,300.07 L113.38,301.98 L114.41,301.98 L114.41,304.18 L116.61,304.18 L116.61,306.16 L118.28,306.16 L118.28,308.54 L119,308.54 L119,310.65 L119.49,310.65 L119.49,312.89 L120.21,312.89 L120.21,314.82 L124.07,314.82 L124.07,316.66 L126.23,316.66 L126.23,318.29 L125.84,318.29 L125.84,319.72 L126.22,319.72 L126.22,321.16 L126.32,321.16 L126.32,322.94 L128.82,322.94 L128.82,324.5 L128.77,324.5 L128.77,326.13 L126.27,326.13 L126.27,328.51 L126.42,328.51 L126.42,330.39 L126.42,330.39 L126.42,332.57 L126.68,332.57 L126.68,334.26 L126.19,334.26 L126.19,336.37 L123.88,336.37 L123.88,338.29 L121.06,338.29 L121.06,339.85 L120.84,339.85 L120.84,341.39 L120.25,341.39 L120.25,343.57 L118.49,343.57 L118.49,345.35 L116.94,345.35 L116.94,347.41 L114.7,347.41 L114.7,349.79 L112.57,349.79 L112.57,352.02 L110.72,352.02 L110.72,353.68 L109.64,353.68 L109.64,355.97 L108.58,355.97 L108.58,358.16 L108.17,358.16 L108.17,359.68 L107.65,359.68 L107.65,361.35 L107.29,361.35 L107.29,363.02 L106.89,363.02 L106.89,365 L106.57,365 L106.57,366.47 L106.33,366.47 L106.33,367.93 L106.11,367.93 L106.11,369.92 L105.92,369.92 L105.92,371.57 L105.86,371.57 L105.86,373.12 L105.88,373.12 L105.88,374.6 L105.4,374.6Z" fill="#4BDC41" stroke="#3CCF36" stroke-width="0.8" stroke-linejoin="round"/>
<line x1="124.5" x2="124.5" y1="282.3" y2="314.5" stroke="#1c1c1c" stroke-width="1"/>
<line x1="124.5" x2="124.5" y1="338.5" y2="372.2" stroke="#1c1c1c" stroke-width="1"/>
<rect x="121.5" y="314.5" width="6" height="24" fill="#4BDC41" fill-opacity="0.42" stroke="#1c1c1c" stroke-width="1"/>
<line x1="121.5" x2="127.5" y1="326" y2="326" stroke="#000" stroke-width="2"/>
<path d="M165.4,264.5 L165.88,264.5 L165.88,265.97 L165.84,265.97 L165.84,267.57 L165.8,267.57 L165.8,269.25 L165.82,269.25 L165.82,270.96 L165.96,270.96 L165.96,272.68 L167.51,272.68 L167.51,274.42 L168.18,274.42 L168.18,276.24 L168.41,276.24 L168.41,277.94 L168.54,277.94 L168.54,279.7 L168.86,279.7 L168.86,281.83 L169.32,281.83 L169.32,283.83 L171.43,283.83 L171.43,285.76 L173.54,285.76 L173.54,287.61 L175,287.61 L175,289.22 L177.07,289.22 L177.07,291.53 L179.6,291.53 L179.6,293.46 L181.08,293.46 L181.08,295.81 L182.22,295.81 L182.22,297.41 L182.46,297.41 L182.46,299.64 L183.69,299.64 L183.69,301.49 L183.9,301.49 L183.9,303.08 L185.32,303.08 L185.32,305.33 L187.03,305.33 L187.03,307.07 L187.28,307.07 L187.28,308.64 L187.2,308.64 L187.2,310.88 L185.77,310.88 L185.77,313.22 L185.04,313.22 L185.04,315.58 L184.66,315.58 L184.66,316.99 L184.66,316.99 L184.66,318.78 L184.18,318.78 L184.18,320.61 L183.6,320.61 L183.6,322.41 L181.93,322.41 L181.93,324.28 L181.62,324.28 L181.62,326.51 L179.93,326.51 L179.93,327.91 L178.97,327.91 L178.97,329.32 L178.32,329.32 L178.32,331.26 L176.96,331.26 L176.96,333.13 L175,333.13 L175,335.46 L172.86,335.46 L172.86,337.08 L171.22,337.08 L171.22,339.26 L169.11,339.26 L169.11,341.3 L167.33,341.3 L167.33,343.16 L165.87,343.16 L165.87,345.09 L165.81,345.09 L165.81,347.41 L165.9,347.41 L165.9,349.51 L165.9,349.51 L165.9,351.82 L165.9,351.82 L165.9,354.08 L165.9,354.08 L165.9,355 L165.4,355Z" fill="#6EA5FC" stroke="#5B93F7" stroke-width="0.8" stroke-linejoin="round"/>
<line x1="183.5" x2="183.5" y1="261.4" y2="298.5" stroke="#1c1c1c" stroke-width="1"/>
<line x1="183.5" x2="183.5" y1="324.5" y2="359.4" stroke="#1c1c1c" stroke-width="1"/>
<rect x="180.5" y="298.5" width="6" height="26" fill="#6EA5FC" fill-opacity="0.42" stroke="#1c1c1c" stroke-width="1"/>
<line x1="180.5" x2="186.5" y1="311" y2="311" stroke="#000" stroke-width="2"/>
<line x1="260.2" x2="455.6" y1="378.5" y2="378.5" stroke="#EEEEEE" stroke-width="1"/><line x1="260.2" x2="455.6" y1="340.5" y2="340.5" stroke="#EEEEEE" stroke-width="1"/><line x1="260.2" x2="455.6" y1="301.5" y2="301.5" stroke="#EEEEEE" stroke-width="1"/><line x1="260.2" x2="455.6" y1="262.5" y2="262.5" stroke="#EEEEEE" stroke-width="1"/><line x1="260.2" x2="455.6" y1="397.5" y2="397.5" stroke="#EEEEEE" stroke-width="1"/><line x1="260.2" x2="455.6" y1="359.5" y2="359.5" stroke="#EEEEEE" stroke-width="1"/><line x1="260.2" x2="455.6" y1="320.5" y2="320.5" stroke="#EEEEEE" stroke-width="1"/><line x1="260.2" x2="455.6" y1="282.5" y2="282.5" stroke="#EEEEEE" stroke-width="1"/><line x1="260.2" x2="455.6" y1="243.5" y2="243.5" stroke="#EEEEEE" stroke-width="1"/><line x1="296.5" x2="296.5" y1="238" y2="416.6" stroke="#EEEEEE" stroke-width="1"/><line x1="355.5" x2="355.5" y1="238" y2="416.6" stroke="#EEEEEE" stroke-width="1"/><line x1="414.5" x2="414.5" y1="238" y2="416.6" stroke="#EEEEEE" stroke-width="1"/>
<text transform="translate(252.3,404.49) scale(0.865,1)" text-anchor="end" font-family="Liberation Sans, sans-serif" font-size="13.9" fill="#3a3a3a">-20</text>
<text transform="translate(252.3,365.89) scale(0.865,1)" text-anchor="end" font-family="Liberation Sans, sans-serif" font-size="13.9" fill="#3a3a3a">0</text>
<text transform="translate(252.3,327.29) scale(0.865,1)" text-anchor="end" font-family="Liberation Sans, sans-serif" font-size="13.9" fill="#3a3a3a">20</text>
<text transform="translate(252.3,288.7) scale(0.865,1)" text-anchor="end" font-family="Liberation Sans, sans-serif" font-size="13.9" fill="#3a3a3a">40</text>
<text transform="translate(252.3,250.1) scale(0.865,1)" text-anchor="end" font-family="Liberation Sans, sans-serif" font-size="13.9" fill="#3a3a3a">60</text>
<text x="357.9" y="231.1" text-anchor="middle" font-family="Liberation Sans, sans-serif" font-weight="bold" font-size="16" fill="#000">SMC</text>
<path d="M278.8,286.3 L279.29,286.3 L279.29,288 L279.28,288 L279.28,289.47 L279.27,289.47 L279.27,291.5 L279.26,291.5 L279.26,292.93 L279.26,292.93 L279.26,294.73 L279.25,294.73 L279.25,296.19 L279.27,296.19 L279.27,298.14 L279.29,298.14 L279.29,299.94 L280.17,299.94 L280.17,301.88 L280.52,301.88 L280.52,303.55 L280.98,303.55 L280.98,305.6 L281.82,305.6 L281.82,307.21 L282.46,307.21 L282.46,308.73 L282.99,308.73 L282.99,310.34 L283.36,310.34 L283.36,311.75 L284.3,311.75 L284.3,313.68 L284.74,313.68 L284.74,315.23 L285.35,315.23 L285.35,317.35 L286.4,317.35 L286.4,319.24 L287.05,319.24 L287.05,321.01 L287.75,321.01 L287.75,323.41 L288.9,323.41 L288.9,325.78 L288.92,325.78 L288.92,328.04 L289.22,328.04 L289.22,329.59 L289.57,329.59 L289.57,331.77 L289.95,331.77 L289.95,333.64 L289.99,333.64 L289.99,335.93 L289.25,335.93 L289.25,338.06 L288.55,338.06 L288.55,340.07 L287.33,340.07 L287.33,342.32 L286.89,342.32 L286.89,343.76 L285.99,343.76 L285.99,346.08 L285.19,346.08 L285.19,348.04 L284.23,348.04 L284.23,350.34 L283.79,350.34 L283.79,352.35 L283.13,352.35 L283.13,354.09 L282.38,354.09 L282.38,356.04 L281.72,356.04 L281.72,358.44 L281.12,358.44 L281.12,360.43 L280.66,360.43 L280.66,361.86 L280.22,361.86 L280.22,363.63 L279.81,363.63 L279.81,365.27 L279.52,365.27 L279.52,366.69 L279.31,366.69 L279.31,368.96 L279.25,368.96 L279.25,371.31 L279.27,371.31 L279.27,373.09 L279.29,373.09 L279.29,374.3 L278.8,374.3Z" fill="#F07171" stroke="#E95C5C" stroke-width="0.8" stroke-linejoin="round"/>
<line x1="296.5" x2="296.5" y1="278.7" y2="317.5" stroke="#1c1c1c" stroke-width="1"/>
<line x1="296.5" x2="296.5" y1="343.5" y2="382.7" stroke="#1c1c1c" stroke-width="1"/>
<rect x="293.5" y="317.5" width="6" height="26" fill="#F07171" fill-opacity="0.42" stroke="#1c1c1c" stroke-width="1"/>
<line x1="293.5" x2="299.5" y1="330" y2="330" stroke="#000" stroke-width="2"/>
<path d="M337.8,279.3 L338.29,279.3 L338.29,281.26 L338.28,281.26 L338.28,283.08 L338.27,283.08 L338.27,284.79 L338.27,284.79 L338.27,286.26 L338.26,286.26 L338.26,288.05 L338.25,288.05 L338.25,289.71 L338.26,289.71 L338.26,291.47 L338.28,291.47 L338.28,293.45 L338.32,293.45 L338.32,295.21 L339.07,295.21 L339.07,297.12 L339.37,297.12 L339.37,299 L340.26,299 L340.26,301 L341.42,301 L341.42,302.9 L342.17,302.9 L342.17,304.81 L342.62,304.81 L342.62,306.51 L343.88,306.51 L343.88,308.65 L344.93,308.65 L344.93,310.97 L346.31,310.97 L346.31,312.88 L346.44,312.88 L346.44,314.92 L347.01,314.92 L347.01,316.46 L347.57,316.46 L347.57,318.11 L348.04,318.11 L348.04,319.79 L348.32,319.79 L348.32,321.31 L348.23,321.31 L348.23,322.81 L348.96,322.81 L348.96,324.27 L348.57,324.27 L348.57,326.22 L348.03,326.22 L348.03,327.71 L347.64,327.71 L347.64,329.99 L347.47,329.99 L347.47,332.18 L347.7,332.18 L347.7,334.41 L346.89,334.41 L346.89,336.51 L346.52,336.51 L346.52,338.84 L345.86,338.84 L345.86,341.11 L344.98,341.11 L344.98,343.43 L343.79,343.43 L343.79,345.01 L343,345.01 L343,346.81 L342.67,346.81 L342.67,348.22 L342.03,348.22 L342.03,349.92 L341.28,349.92 L341.28,352.15 L340.77,352.15 L340.77,354.31 L340.33,354.31 L340.33,355.88 L339.92,355.88 L339.92,357.53 L339.52,357.53 L339.52,359.05 L339.09,359.05 L339.09,360.89 L338.6,360.89 L338.6,362.76 L338.3,362.76 L338.3,364.39 L338.24,364.39 L338.24,366.67 L338.25,366.67 L338.25,368.69 L338.29,368.69 L338.29,370.1 L337.8,370.1Z" fill="#4BDC41" stroke="#3CCF36" stroke-width="0.8" stroke-linejoin="round"/>
<line x1="355.5" x2="355.5" y1="274.6" y2="313.5" stroke="#1c1c1c" stroke-width="1"/>
<line x1="355.5" x2="355.5" y1="341.5" y2="378.3" stroke="#1c1c1c" stroke-width="1"/>
<rect x="352.5" y="313.5" width="6" height="28" fill="#4BDC41" fill-opacity="0.42" stroke="#1c1c1c" stroke-width="1"/>
<line x1="352.5" x2="358.5" y1="328" y2="328" stroke="#000" stroke-width="2"/>
<path d="M396.6,273.9 L397.1,273.9 L397.1,275.54 L397.1,275.54 L397.1,277.17 L397.1,277.17 L397.1,278.64 L397.18,278.64 L397.18,280.37 L397.41,280.37 L397.41,281.81 L397.68,281.81 L397.68,283.6 L398.09,283.6 L398.09,285.64 L398.56,285.64 L398.56,287.62 L399.24,287.62 L399.24,289.52 L399.8,289.52 L399.8,291.6 L400.41,291.6 L400.41,293.04 L400.8,293.04 L400.8,295.05 L401.23,295.05 L401.23,296.47 L401.69,296.47 L401.69,298.81 L402.25,298.81 L402.25,301.05 L403.24,301.05 L403.24,303.24 L404.16,303.24 L404.16,304.74 L404.53,304.74 L404.53,307.05 L405.5,307.05 L405.5,308.71 L405.72,308.71 L405.72,310.7 L406.58,310.7 L406.58,312.2 L407.5,312.2 L407.5,314.4 L407.57,314.4 L407.57,316.06 L407.38,316.06 L407.38,318.08 L406.42,318.08 L406.42,320.04 L407.2,320.04 L407.2,321.95 L408.08,321.95 L408.08,324.13 L407.57,324.13 L407.57,325.62 L407.2,325.62 L407.2,327.63 L405.92,327.63 L405.92,329.06 L405.52,329.06 L405.52,330.95 L404.43,330.95 L404.43,332.8 L403.88,332.8 L403.88,334.26 L403.13,334.26 L403.13,336.13 L402.4,336.13 L402.4,338.18 L401.94,338.18 L401.94,340.37 L401.73,340.37 L401.73,342.72 L401.08,342.72 L401.08,344.81 L400.7,344.81 L400.7,347.13 L400.08,347.13 L400.08,349.47 L399.75,349.47 L399.75,351.23 L399.39,351.23 L399.39,353.23 L398.96,353.23 L398.96,355.07 L398.46,355.07 L398.46,357.06 L398.07,357.06 L398.07,358.62 L397.77,358.62 L397.77,360.61 L397.54,360.61 L397.54,362.74 L397.38,362.74 L397.38,364.49 L397.23,364.49 L397.23,366.49 L397.13,366.49 L397.13,367.2 L396.6,367.2Z" fill="#6EA5FC" stroke="#5B93F7" stroke-width="0.8" stroke-linejoin="round"/>
<line x1="414.5" x2="414.5" y1="268.1" y2="308.5" stroke="#1c1c1c" stroke-width="1"/>
<line x1="414.5" x2="414.5" y1="335.5" y2="374.6" stroke="#1c1c1c" stroke-width="1"/>
<rect x="411.5" y="308.5" width="6" height="27" fill="#6EA5FC" fill-opacity="0.42" stroke="#1c1c1c" stroke-width="1"/>
<line x1="411.5" x2="417.5" y1="321" y2="321" stroke="#000" stroke-width="2"/>
<line x1="489.3" x2="684.6" y1="398.5" y2="398.5" stroke="#EEEEEE" stroke-width="1"/><line x1="489.3" x2="684.6" y1="352.5" y2="352.5" stroke="#EEEEEE" stroke-width="1"/><line x1="489.3" x2="684.6" y1="305.5" y2="305.5" stroke="#EEEEEE" stroke-width="1"/><line x1="489.3" x2="684.6" y1="259.5" y2="259.5" stroke="#EEEEEE" stroke-width="1"/><line x1="489.3" x2="684.6" y1="375.5" y2="375.5" stroke="#EEEEEE" stroke-width="1"/><line x1="489.3" x2="684.6" y1="329.5" y2="329.5" stroke="#EEEEEE" stroke-width="1"/><line x1="489.3" x2="684.6" y1="282.5" y2="282.5" stroke="#EEEEEE" stroke-width="1"/><line x1="525" x2="525" y1="238" y2="416.6" stroke="#EEEEEE" stroke-width="1"/><line x1="584.1" x2="584.1" y1="238" y2="416.6" stroke="#EEEEEE" stroke-width="1"/><line x1="643.2" x2="643.2" y1="238" y2="416.6" stroke="#EEEEEE" stroke-width="1"/>
<text transform="translate(481,381.78) scale(0.865,1)" text-anchor="end" font-family="Liberation Sans, sans-serif" font-size="13.9" fill="#3a3a3a">0</text>
<text transform="translate(481,335.54) scale(0.865,1)" text-anchor="end" font-family="Liberation Sans, sans-serif" font-size="13.9" fill="#3a3a3a">20</text>
<text transform="translate(481,289.31) scale(0.865,1)" text-anchor="end" font-family="Liberation Sans, sans-serif" font-size="13.9" fill="#3a3a3a">40</text>
<text x="586.95" y="231.1" text-anchor="middle" font-family="Liberation Sans, sans-serif" font-weight="bold" font-size="16" fill="#000">CMC</text>
<path d="M507.1,258.1 L507.6,258.1 L507.6,260.34 L507.6,260.34 L507.6,262.04 L507.6,262.04 L507.6,263.44 L507.6,263.44 L507.6,264.94 L507.56,264.94 L507.56,267.04 L507.88,267.04 L507.88,268.45 L508.14,268.45 L508.14,269.95 L508.45,269.95 L508.45,271.58 L508.88,271.58 L508.88,273.72 L509.42,273.72 L509.42,276.09 L509.86,276.09 L509.86,277.88 L510.42,277.88 L510.42,279.31 L510.87,279.31 L510.87,281.41 L511.5,281.41 L511.5,283.66 L512.34,283.66 L512.34,285.5 L512.92,285.5 L512.92,287.64 L513.73,287.64 L513.73,289.44 L513.92,289.44 L513.92,291.76 L514.45,291.76 L514.45,293.66 L514.79,293.66 L514.79,295.95 L515.34,295.95 L515.34,298.27 L516.4,298.27 L516.4,300.33 L516.49,300.33 L516.49,301.86 L517.3,301.86 L517.3,304.01 L517.59,304.01 L517.59,305.58 L517.64,305.58 L517.64,307.64 L518.5,307.64 L518.5,309.73 L519.02,309.73 L519.02,312.05 L519.37,312.05 L519.37,314.38 L519.7,314.38 L519.7,315.97 L519.53,315.97 L519.53,318.34 L519.05,318.34 L519.05,319.99 L518.13,319.99 L518.13,321.81 L516.7,321.81 L516.7,323.99 L516.15,323.99 L516.15,326.18 L514.59,326.18 L514.59,328.4 L513.99,328.4 L513.99,329.88 L512.82,329.88 L512.82,331.75 L511.87,331.75 L511.87,333.66 L510.94,333.66 L510.94,335.64 L510.56,335.64 L510.56,337.15 L510.16,337.15 L510.16,339.05 L509.8,339.05 L509.8,340.57 L509.27,340.57 L509.27,342.85 L508.73,342.85 L508.73,344.79 L508.24,344.79 L508.24,346.91 L507.79,346.91 L507.79,349.1 L507.59,349.1 L507.59,351.46 L507.55,351.46 L507.55,353.15 L507.54,353.15 L507.54,355.16 L507.55,355.16 L507.55,357.04 L507.57,357.04 L507.57,359.13 L507.59,359.13 L507.59,360.72 L507.6,360.72 L507.6,360.8 L507.1,360.8Z" fill="#F07171" stroke="#E95C5C" stroke-width="0.8" stroke-linejoin="round"/>
<line x1="525" x2="525" y1="253.9" y2="296.5" stroke="#1c1c1c" stroke-width="1.2"/>
<line x1="525" x2="525" y1="325.5" y2="367.1" stroke="#1c1c1c" stroke-width="1.2"/>
<rect x="522" y="296.5" width="6" height="29" fill="#F07171" fill-opacity="0.42" stroke="#1c1c1c" stroke-width="1.3"/>
<line x1="522" x2="528" y1="311" y2="311" stroke="#000" stroke-width="2"/>
<path d="M566.2,265.6 L566.7,265.6 L566.7,267.72 L566.7,267.72 L566.7,269.45 L566.7,269.45 L566.7,271.49 L566.7,271.49 L566.7,273.79 L566.7,273.79 L566.7,275.91 L566.83,275.91 L566.83,277.56 L567.01,277.56 L567.01,279.22 L567.2,279.22 L567.2,280.87 L567.44,280.87 L567.44,283.23 L567.7,283.23 L567.7,285.23 L567.93,285.23 L567.93,286.85 L568.18,286.85 L568.18,289.05 L568.47,289.05 L568.47,291.02 L568.85,291.02 L568.85,292.99 L569.2,292.99 L569.2,294.51 L569.59,294.51 L569.59,295.93 L570.37,295.93 L570.37,297.79 L571.1,297.79 L571.1,299.36 L572.16,299.36 L572.16,301.33 L572.76,301.33 L572.76,303.53 L573.9,303.53 L573.9,305.16 L574.09,305.16 L574.09,307.35 L574.85,307.35 L574.85,309.13 L574.86,309.13 L574.86,310.53 L575.31,310.53 L575.31,312.71 L575.56,312.71 L575.56,315.03 L575.75,315.03 L575.75,316.71 L575.77,316.71 L575.77,318.67 L576.48,318.67 L576.48,320.26 L576.27,320.26 L576.27,321.84 L576.32,321.84 L576.32,323.56 L576.56,323.56 L576.56,325.22 L576.56,325.22 L576.56,327.04 L577.06,327.04 L577.06,329.43 L576.88,329.43 L576.88,331.8 L576.35,331.8 L576.35,333.6 L576.59,333.6 L576.59,335.56 L576.24,335.56 L576.24,337.54 L575.72,337.54 L575.72,339.08 L575.52,339.08 L575.52,340.54 L574.5,340.54 L574.5,342.65 L574.11,342.65 L574.11,344.78 L573.4,344.78 L573.4,347.08 L572.49,347.08 L572.49,348.93 L571.98,348.93 L571.98,350.49 L570.88,350.49 L570.88,352.66 L569.88,352.66 L569.88,354.3 L569.12,354.3 L569.12,356.41 L568.44,356.41 L568.44,357.82 L568.04,357.82 L568.04,359.71 L567.55,359.71 L567.55,361.9 L567.21,361.9 L567.21,363.46 L566.97,363.46 L566.97,365.63 L566.85,365.63 L566.85,367.54 L566.77,367.54 L566.77,368.99 L566.72,368.99 L566.72,370.67 L566.69,370.67 L566.69,372.56 L566.67,372.56 L566.67,374.7 L566.66,374.7 L566.66,376.18 L566.66,376.18 L566.66,378.43 L566.67,378.43 L566.67,380.77 L566.68,380.77 L566.68,382.86 L566.69,382.86 L566.69,384.89 L566.7,384.89 L566.7,384.9 L566.2,384.9Z" fill="#4BDC41" stroke="#3CCF36" stroke-width="0.8" stroke-linejoin="round"/>
<line x1="584.1" x2="584.1" y1="265.5" y2="310.5" stroke="#1c1c1c" stroke-width="1.2"/>
<line x1="584.1" x2="584.1" y1="340.5" y2="385.4" stroke="#1c1c1c" stroke-width="1.2"/>
<rect x="581.1" y="310.5" width="6" height="30" fill="#4BDC41" fill-opacity="0.42" stroke="#1c1c1c" stroke-width="1.3"/>
<line x1="581.1" x2="587.1" y1="325" y2="325" stroke="#000" stroke-width="2"/>
<path d="M625.3,272.5 L625.8,272.5 L625.8,274.27 L625.8,274.27 L625.8,275.94 L625.8,275.94 L625.8,278.06 L625.8,278.06 L625.8,279.66 L625.8,279.66 L625.8,281.35 L625.86,281.35 L625.86,282.9 L626.04,282.9 L626.04,285.03 L626.24,285.03 L626.24,286.85 L626.46,286.85 L626.46,288.71 L626.69,288.71 L626.69,290.68 L626.96,290.68 L626.96,292.69 L627.21,292.69 L627.21,294.15 L627.39,294.15 L627.39,295.78 L627.73,295.78 L627.73,297.63 L628.1,297.63 L628.1,299.53 L628.57,299.53 L628.57,301.34 L629.21,301.34 L629.21,302.92 L629.44,302.92 L629.44,304.33 L630.23,304.33 L630.23,306.63 L630.83,306.63 L630.83,308.23 L631.64,308.23 L631.64,309.84 L632.3,309.84 L632.3,311.46 L632.89,311.46 L632.89,313.46 L634.01,313.46 L634.01,315.39 L634.52,315.39 L634.52,317.77 L635.71,317.77 L635.71,319.3 L636.09,319.3 L636.09,321.43 L636.02,321.43 L636.02,323.23 L636.6,323.23 L636.6,324.65 L635.97,324.65 L635.97,327.01 L636.67,327.01 L636.67,328.81 L636.33,328.81 L636.33,331.12 L636.77,331.12 L636.77,333.08 L637.15,333.08 L637.15,334.84 L636.5,334.84 L636.5,336.74 L636.33,336.74 L636.33,338.88 L635.12,338.88 L635.12,340.96 L635.01,340.96 L635.01,342.54 L634.91,342.54 L634.91,344.13 L634.27,344.13 L634.27,345.57 L633.7,345.57 L633.7,347.16 L633.57,347.16 L633.57,349.22 L632.84,349.22 L632.84,350.98 L632.04,350.98 L632.04,352.8 L631.4,352.8 L631.4,354.87 L630.63,354.87 L630.63,356.56 L630.1,356.56 L630.1,358.71 L629.26,358.71 L629.26,361 L628.83,361 L628.83,363.11 L628.33,363.11 L628.33,365.41 L627.9,365.41 L627.9,367.61 L627.6,367.61 L627.6,369.38 L627.29,369.38 L627.29,370.86 L627.09,370.86 L627.09,372.37 L626.86,372.37 L626.86,374.18 L626.57,374.18 L626.57,376.09 L626.24,376.09 L626.24,378.33 L625.97,378.33 L625.97,379.97 L625.79,379.97 L625.79,381.61 L625.73,381.61 L625.73,383.88 L625.78,383.88 L625.78,385 L625.3,385Z" fill="#6EA5FC" stroke="#5B93F7" stroke-width="0.8" stroke-linejoin="round"/>
<rect x="624.9" y="389.5" width="1.3" height="9" fill="#5B93F7"/>
<line x1="643.2" x2="643.2" y1="271.6" y2="316.5" stroke="#1c1c1c" stroke-width="1.2"/>
<line x1="643.2" x2="643.2" y1="348.5" y2="392.5" stroke="#1c1c1c" stroke-width="1.2"/>
<rect x="640.2" y="316.5" width="6" height="32" fill="#6EA5FC" fill-opacity="0.42" stroke="#1c1c1c" stroke-width="1.3"/>
<line x1="640.2" x2="646.2" y1="332" y2="332" stroke="#000" stroke-width="2"/>
<line x1="28.9" x2="224.5" y1="612.5" y2="612.5" stroke="#EEEEEE" stroke-width="1"/><line x1="28.9" x2="224.5" y1="576.5" y2="576.5" stroke="#EEEEEE" stroke-width="1"/><line x1="28.9" x2="224.5" y1="541.5" y2="541.5" stroke="#EEEEEE" stroke-width="1"/><line x1="28.9" x2="224.5" y1="505.5" y2="505.5" stroke="#EEEEEE" stroke-width="1"/><line x1="28.9" x2="224.5" y1="470.5" y2="470.5" stroke="#EEEEEE" stroke-width="1"/><line x1="28.9" x2="224.5" y1="629.5" y2="629.5" stroke="#EEEEEE" stroke-width="1"/><line x1="28.9" x2="224.5" y1="594.5" y2="594.5" stroke="#EEEEEE" stroke-width="1"/><line x1="28.9" x2="224.5" y1="558.5" y2="558.5" stroke="#EEEEEE" stroke-width="1"/><line x1="28.9" x2="224.5" y1="523.5" y2="523.5" stroke="#EEEEEE" stroke-width="1"/><line x1="28.9" x2="224.5" y1="488.5" y2="488.5" stroke="#EEEEEE" stroke-width="1"/><line x1="64.5" x2="64.5" y1="453.3" y2="631.8" stroke="#EEEEEE" stroke-width="1"/><line x1="124.5" x2="124.5" y1="453.3" y2="631.8" stroke="#EEEEEE" stroke-width="1"/><line x1="183.5" x2="183.5" y1="453.3" y2="631.8" stroke="#EEEEEE" stroke-width="1"/>
<text transform="translate(21.8,636.23) scale(0.865,1)" text-anchor="end" font-family="Liberation Sans, sans-serif" font-size="13.9" fill="#3a3a3a">-60</text>
<text transform="translate(21.8,600.86) scale(0.865,1)" text-anchor="end" font-family="Liberation Sans, sans-serif" font-size="13.9" fill="#3a3a3a">-40</text>
<text transform="translate(21.8,565.48) scale(0.865,1)" text-anchor="end" font-family="Liberation Sans, sans-serif" font-size="13.9" fill="#3a3a3a">-20</text>
<text transform="translate(21.8,530.1) scale(0.865,1)" text-anchor="end" font-family="Liberation Sans, sans-serif" font-size="13.9" fill="#3a3a3a">0</text>
<text transform="translate(21.8,494.72) scale(0.865,1)" text-anchor="end" font-family="Liberation Sans, sans-serif" font-size="13.9" fill="#3a3a3a">20</text>
<text x="126.7" y="446.4" text-anchor="middle" font-family="Liberation Sans, sans-serif" font-weight="bold" font-size="16" fill="#000">SMC<tspan font-weight="normal" font-size="14.5">Δ</tspan></text>
<path d="M46.4,485.3 L46.9,485.3 L46.9,487.04 L46.9,487.04 L46.9,488.8 L46.9,488.8 L46.9,491.02 L46.9,491.02 L46.9,492.69 L46.9,492.69 L46.9,494.36 L46.9,494.36 L46.9,496.23 L46.9,496.23 L46.9,498.5 L47.27,498.5 L47.27,500.89 L47.68,500.89 L47.68,502.3 L47.99,502.3 L47.99,503.83 L48.28,503.83 L48.28,505.25 L48.51,505.25 L48.51,507.03 L48.78,507.03 L48.78,508.6 L49.17,508.6 L49.17,510.82 L49.45,510.82 L49.45,512.33 L49.8,512.33 L49.8,513.96 L50.23,513.96 L50.23,515.76 L50.66,515.76 L50.66,517.48 L50.82,517.48 L50.82,519.31 L51.39,519.31 L51.39,520.76 L51.8,520.76 L51.8,522.26 L52.2,522.26 L52.2,523.71 L52.59,523.71 L52.59,525.23 L52.99,525.23 L52.99,527.53 L53.59,527.53 L53.59,529.6 L54.2,529.6 L54.2,531.39 L54.37,531.39 L54.37,532.82 L54.77,532.82 L54.77,535.01 L55.5,535.01 L55.5,537.28 L55.83,537.28 L55.83,538.95 L56.02,538.95 L56.02,540.61 L56.37,540.61 L56.37,542.77 L56.18,542.77 L56.18,544.66 L55.64,544.66 L55.64,546.5 L55.27,546.5 L55.27,548.05 L54.81,548.05 L54.81,549.92 L54.34,549.92 L54.34,551.51 L54.04,551.51 L54.04,553 L53.48,553 L53.48,555.17 L52.92,555.17 L52.92,557.18 L52.07,557.18 L52.07,559.19 L51.72,559.19 L51.72,560.73 L51.39,560.73 L51.39,562.16 L51.19,562.16 L51.19,564.38 L50.57,564.38 L50.57,565.86 L50.2,565.86 L50.2,567.93 L49.51,567.93 L49.51,569.8 L49.19,569.8 L49.19,571.59 L48.75,571.59 L48.75,573.79 L48.53,573.79 L48.53,575.69 L48.34,575.69 L48.34,577.28 L48.07,577.28 L48.07,579.56 L47.72,579.56 L47.72,581.15 L47.4,581.15 L47.4,582.85 L47.14,582.85 L47.14,584.36 L46.89,584.36 L46.89,586.67 L46.81,586.67 L46.81,588.56 L46.85,588.56 L46.85,590.44 L46.88,590.44 L46.88,592.81 L46.9,592.81 L46.9,594.75 L46.9,594.75 L46.9,596.25 L46.9,596.25 L46.9,597.93 L46.9,597.93 L46.9,599.36 L46.9,599.36 L46.9,600.8 L46.9,600.8 L46.9,603.05 L46.9,603.05 L46.9,604.83 L46.9,604.83 L46.9,606.55 L46.9,606.55 L46.9,608.83 L46.9,608.83 L46.9,610.54 L46.9,610.54 L46.9,610.8 L46.4,610.8Z" fill="#F07171" stroke="#E95C5C" stroke-width="0.8" stroke-linejoin="round"/>
<line x1="64.5" x2="64.5" y1="484.9" y2="530.5" stroke="#1c1c1c" stroke-width="1"/>
<line x1="64.5" x2="64.5" y1="561.5" y2="605.5" stroke="#1c1c1c" stroke-width="1"/>
<rect x="61.5" y="530.5" width="6" height="31" fill="#F07171" fill-opacity="0.42" stroke="#1c1c1c" stroke-width="1"/>
<line x1="61.5" x2="67.5" y1="546" y2="546" stroke="#000" stroke-width="2"/>
<path d="M105.4,465.5 L105.9,465.5 L105.9,467.15 L105.89,467.15 L105.89,469.33 L105.87,469.33 L105.87,471.38 L105.86,471.38 L105.86,473.71 L105.85,473.71 L105.85,475.14 L105.85,475.14 L105.85,476.6 L105.84,476.6 L105.84,478.37 L105.83,478.37 L105.83,480.68 L105.83,480.68 L105.83,483.02 L105.82,483.02 L105.82,484.98 L105.84,484.98 L105.84,486.54 L105.86,486.54 L105.86,488.09 L105.88,488.09 L105.88,490.04 L105.9,490.04 L105.9,491.63 L106.07,491.63 L106.07,493.69 L107.41,493.69 L107.41,495.28 L107.92,495.28 L107.92,497.49 L108.28,497.49 L108.28,499.46 L108.85,499.46 L108.85,501.12 L109.2,501.12 L109.2,503.3 L109.84,503.3 L109.84,505.22 L110.4,505.22 L110.4,507.6 L110.94,507.6 L110.94,509.9 L111.39,509.9 L111.39,512.11 L111.92,512.11 L111.92,513.62 L112.36,513.62 L112.36,515.23 L112.58,515.23 L112.58,517.03 L113.45,517.03 L113.45,519.21 L114.06,519.21 L114.06,521.43 L114.75,521.43 L114.75,523.48 L114.97,523.48 L114.97,525.1 L115.3,525.1 L115.3,526.87 L115.49,526.87 L115.49,529.23 L115.98,529.23 L115.98,530.93 L116.4,530.93 L116.4,532.83 L115.92,532.83 L115.92,534.94 L116.27,534.94 L116.27,536.37 L115.89,536.37 L115.89,537.89 L114.73,537.89 L114.73,539.89 L114.48,539.89 L114.48,542.11 L113.29,542.11 L113.29,544.03 L112.54,544.03 L112.54,546.33 L112.02,546.33 L112.02,548.01 L111.45,548.01 L111.45,549.47 L110.99,549.47 L110.99,551.87 L110.44,551.87 L110.44,553.37 L109.73,553.37 L109.73,555.42 L109.02,555.42 L109.02,556.95 L108.7,556.95 L108.7,558.6 L108.15,558.6 L108.15,560.91 L107.71,560.91 L107.71,562.47 L107.23,562.47 L107.23,564.62 L106.82,564.62 L106.82,566.84 L106.45,566.84 L106.45,569.08 L106.16,569.08 L106.16,571.05 L106.03,571.05 L106.03,573.13 L105.9,573.13 L105.9,574.99 L105.88,574.99 L105.88,577.38 L105.85,577.38 L105.85,579.38 L105.83,579.38 L105.83,581.49 L105.82,581.49 L105.82,583.73 L105.84,583.73 L105.84,586.11 L105.85,586.11 L105.85,587.7 L105.85,587.7 L105.85,589.82 L105.87,589.82 L105.87,591.89 L105.88,591.89 L105.88,593.6 L105.89,593.6 L105.89,595.5 L105.9,595.5 L105.9,595.9 L105.4,595.9Z" fill="#4BDC41" stroke="#3CCF36" stroke-width="0.8" stroke-linejoin="round"/>
<line x1="124.5" x2="124.5" y1="480.5" y2="516.5" stroke="#1c1c1c" stroke-width="1"/>
<line x1="124.5" x2="124.5" y1="543.5" y2="580.5" stroke="#1c1c1c" stroke-width="1"/>
<rect x="121.5" y="516.5" width="6" height="27" fill="#4BDC41" fill-opacity="0.42" stroke="#1c1c1c" stroke-width="1"/>
<line x1="121.5" x2="127.5" y1="530" y2="530" stroke="#000" stroke-width="2"/>
<path d="M165.4,474.9 L165.9,474.9 L165.9,476.42 L165.9,476.42 L165.9,478.21 L165.9,478.21 L165.9,479.83 L165.85,479.83 L165.85,481.55 L166.16,481.55 L166.16,483.02 L166.52,483.02 L166.52,485.2 L166.97,485.2 L166.97,487.36 L167.47,487.36 L167.47,488.89 L167.91,488.89 L167.91,490.96 L168.37,490.96 L168.37,493.17 L169.11,493.17 L169.11,495.55 L169.48,495.55 L169.48,497.1 L169.79,497.1 L169.79,498.81 L170.31,498.81 L170.31,500.75 L171.01,500.75 L171.01,502.51 L171.83,502.51 L171.83,503.93 L172.78,503.93 L172.78,506.21 L173.69,506.21 L173.69,507.82 L174.09,507.82 L174.09,509.56 L174.61,509.56 L174.61,511.43 L175.21,511.43 L175.21,513.75 L175.06,513.75 L175.06,515.82 L175.3,515.82 L175.3,517.84 L174.79,517.84 L174.79,519.26 L174.92,519.26 L174.92,521.07 L174.6,521.07 L174.6,522.59 L174.33,522.59 L174.33,524.65 L173.6,524.65 L173.6,526.72 L173.46,526.72 L173.46,528.42 L173.49,528.42 L173.49,529.89 L173.24,529.89 L173.24,531.42 L172.54,531.42 L172.54,533.14 L171.84,533.14 L171.84,535.22 L171.16,535.22 L171.16,537.22 L170.67,537.22 L170.67,538.83 L170.39,538.83 L170.39,540.77 L169.91,540.77 L169.91,542.21 L169.43,542.21 L169.43,544.14 L168.91,544.14 L168.91,546.26 L168.34,546.26 L168.34,548.45 L167.84,548.45 L167.84,550.54 L167.54,550.54 L167.54,552.1 L166.96,552.1 L166.96,554.22 L166.31,554.22 L166.31,556.52 L165.9,556.52 L165.9,558.32 L165.83,558.32 L165.83,559.82 L165.82,559.82 L165.82,561.87 L165.86,561.87 L165.86,563.49 L165.89,563.49 L165.89,564 L165.4,564Z" fill="#6EA5FC" stroke="#5B93F7" stroke-width="0.8" stroke-linejoin="round"/>
<line x1="183.5" x2="183.5" y1="466.2" y2="506.5" stroke="#1c1c1c" stroke-width="1"/>
<line x1="183.5" x2="183.5" y1="534.5" y2="569.9" stroke="#1c1c1c" stroke-width="1"/>
<rect x="180.5" y="506.5" width="6" height="28" fill="#6EA5FC" fill-opacity="0.42" stroke="#1c1c1c" stroke-width="1"/>
<line x1="180.5" x2="186.5" y1="520" y2="520" stroke="#000" stroke-width="2"/>
<line x1="260.2" x2="455.6" y1="619.5" y2="619.5" stroke="#EEEEEE" stroke-width="1"/><line x1="260.2" x2="455.6" y1="554.5" y2="554.5" stroke="#EEEEEE" stroke-width="1"/><line x1="260.2" x2="455.6" y1="490.5" y2="490.5" stroke="#EEEEEE" stroke-width="1"/><line x1="260.2" x2="455.6" y1="586.5" y2="586.5" stroke="#EEEEEE" stroke-width="1"/><line x1="260.2" x2="455.6" y1="522.5" y2="522.5" stroke="#EEEEEE" stroke-width="1"/><line x1="260.2" x2="455.6" y1="457.5" y2="457.5" stroke="#EEEEEE" stroke-width="1"/><line x1="296.5" x2="296.5" y1="453.3" y2="631.8" stroke="#EEEEEE" stroke-width="1"/><line x1="355.5" x2="355.5" y1="453.3" y2="631.8" stroke="#EEEEEE" stroke-width="1"/><line x1="414.5" x2="414.5" y1="453.3" y2="631.8" stroke="#EEEEEE" stroke-width="1"/>
<text transform="translate(252.3,593.25) scale(0.865,1)" text-anchor="end" font-family="Liberation Sans, sans-serif" font-size="13.9" fill="#3a3a3a">50</text>
<text transform="translate(252.3,528.76) scale(0.865,1)" text-anchor="end" font-family="Liberation Sans, sans-serif" font-size="13.9" fill="#3a3a3a">100</text>
<text transform="translate(252.3,464.26) scale(0.865,1)" text-anchor="end" font-family="Liberation Sans, sans-serif" font-size="13.9" fill="#3a3a3a">150</text>
<text x="357.9" y="446.4" text-anchor="middle" font-family="Liberation Sans, sans-serif" font-weight="bold" font-size="16" fill="#000">Barthel</text>
<path d="M278.8,492.8 L279.29,492.8 L279.29,494.22 L279.28,494.22 L279.28,495.65 L279.27,495.65 L279.27,497.7 L279.26,497.7 L279.26,499.72 L279.27,499.72 L279.27,501.68 L279.3,501.68 L279.3,503.47 L280.01,503.47 L280.01,505.44 L280.1,505.44 L280.1,507.1 L280.21,507.1 L280.21,509.4 L280.35,509.4 L280.35,510.81 L280.53,510.81 L280.53,513.06 L280.78,513.06 L280.78,515.12 L280.96,515.12 L280.96,516.81 L281.27,516.81 L281.27,518.52 L281.42,518.52 L281.42,520.37 L281.82,520.37 L281.82,522.47 L282.09,522.47 L282.09,524.64 L282.42,524.64 L282.42,526.31 L282.47,526.31 L282.47,528.57 L282.88,528.57 L282.88,530.64 L282.99,530.64 L282.99,532.4 L283.55,532.4 L283.55,534.31 L283.9,534.31 L283.9,535.71 L284.09,535.71 L284.09,537.31 L284.62,537.31 L284.62,539.36 L284.09,539.36 L284.09,541.49 L283.53,541.49 L283.53,542.9 L283.28,542.9 L283.28,544.7 L282.82,544.7 L282.82,546.94 L282.39,546.94 L282.39,549.06 L282.1,549.06 L282.1,551.19 L282.22,551.19 L282.22,553.04 L282.6,553.04 L282.6,555.03 L282.59,555.03 L282.59,556.77 L282.49,556.77 L282.49,559.13 L281.94,559.13 L281.94,561.09 L281.64,561.09 L281.64,562.83 L281.13,562.83 L281.13,564.95 L280.66,564.95 L280.66,567.21 L280.43,567.21 L280.43,568.76 L280.28,568.76 L280.28,570.72 L280.09,570.72 L280.09,573.08 L279.81,573.08 L279.81,574.94 L279.56,574.94 L279.56,576.8 L279.41,576.8 L279.41,578.46 L279.3,578.46 L279.3,580.16 L279.27,580.16 L279.27,581.74 L279.25,581.74 L279.25,583.27 L279.25,583.27 L279.25,585.58 L279.26,585.58 L279.26,587.91 L279.28,587.91 L279.28,589.88 L279.29,589.88 L279.29,591 L278.8,591Z" fill="#F07171" stroke="#E95C5C" stroke-width="0.8" stroke-linejoin="round"/>
<line x1="296.5" x2="296.5" y1="475.4" y2="525.5" stroke="#1c1c1c" stroke-width="1"/>
<line x1="296.5" x2="296.5" y1="558.5" y2="607.5" stroke="#1c1c1c" stroke-width="1"/>
<rect x="293.5" y="525.5" width="6" height="33" fill="#F07171" fill-opacity="0.42" stroke="#1c1c1c" stroke-width="1"/>
<line x1="293.5" x2="299.5" y1="541" y2="541" stroke="#000" stroke-width="2"/>
<path d="M337.8,499.7 L338.17,499.7 L338.17,501.96 L338.35,501.96 L338.35,503.82 L339.57,503.82 L339.57,505.75 L340.87,505.75 L340.87,508.06 L341.9,508.06 L341.9,509.66 L342.5,509.66 L342.5,511.59 L342.88,511.59 L342.88,513.74 L343.6,513.74 L343.6,515.19 L343.76,515.19 L343.76,516.96 L344.42,516.96 L344.42,519.06 L344.55,519.06 L344.55,520.77 L345,520.77 L345,523.08 L345.58,523.08 L345.58,525.11 L346.88,525.11 L346.88,527.33 L348.27,527.33 L348.27,528.83 L348.77,528.83 L348.77,530.49 L348.33,530.49 L348.33,532.63 L347.69,532.63 L347.69,534.56 L346.5,534.56 L346.5,536.47 L346.03,536.47 L346.03,538.02 L345.4,538.02 L345.4,539.53 L344.35,539.53 L344.35,541.27 L343.76,541.27 L343.76,543.37 L342.65,543.37 L342.65,545.39 L341.37,545.39 L341.37,547.11 L340.6,547.11 L340.6,549.2 L339.54,549.2 L339.54,550.62 L338.67,550.62 L338.67,552.86 L338.23,552.86 L338.23,555.12 L338.16,555.12 L338.16,556.97 L338.21,556.97 L338.21,558.91 L338.28,558.91 L338.28,560 L337.8,560Z" fill="#4BDC41" stroke="#3CCF36" stroke-width="0.8" stroke-linejoin="round"/>
<line x1="355.5" x2="355.5" y1="491.6" y2="519.5" stroke="#1c1c1c" stroke-width="1"/>
<line x1="355.5" x2="355.5" y1="539.5" y2="563.8" stroke="#1c1c1c" stroke-width="1"/>
<rect x="352.5" y="519.5" width="6" height="20" fill="#4BDC41" fill-opacity="0.42" stroke="#1c1c1c" stroke-width="1"/>
<line x1="352.5" x2="358.5" y1="530" y2="530" stroke="#000" stroke-width="2"/>
<path d="M396.6,496.9 L397.07,496.9 L397.07,499.27 L397.04,499.27 L397.04,501.37 L397.11,501.37 L397.11,503.06 L398.68,503.06 L398.68,505.2 L399.54,505.2 L399.54,506.88 L400.3,506.88 L400.3,508.77 L401.22,508.77 L401.22,510.18 L402.22,510.18 L402.22,511.86 L402.67,511.86 L402.67,513.62 L403.87,513.62 L403.87,515.07 L404.47,515.07 L404.47,516.48 L405.74,516.48 L405.74,518.45 L406.56,518.45 L406.56,520.6 L408.42,520.6 L408.42,522.91 L408.76,522.91 L408.76,525.17 L408.36,525.17 L408.36,527.34 L407.78,527.34 L407.78,529.45 L407.17,529.45 L407.17,530.88 L406.25,530.88 L406.25,532.77 L405.46,532.77 L405.46,534.83 L404.52,534.83 L404.52,537.09 L403.82,537.09 L403.82,539.34 L402.31,539.34 L402.31,541.67 L401.37,541.67 L401.37,543.25 L400.66,543.25 L400.66,545.52 L399.32,545.52 L399.32,547.68 L398.49,547.68 L398.49,549.17 L397.83,549.17 L397.83,550.61 L397.33,550.61 L397.33,552.03 L397.06,552.03 L397.06,554.31 L397.01,554.31 L397.01,556.45 L397.05,556.45 L397.05,557.99 L397.09,557.99 L397.09,558.8 L396.6,558.8Z" fill="#6EA5FC" stroke="#5B93F7" stroke-width="0.8" stroke-linejoin="round"/>
<line x1="414.5" x2="414.5" y1="494.7" y2="519.5" stroke="#1c1c1c" stroke-width="1"/>
<line x1="414.5" x2="414.5" y1="537.5" y2="561.1" stroke="#1c1c1c" stroke-width="1"/>
<rect x="411.5" y="519.5" width="6" height="18" fill="#6EA5FC" fill-opacity="0.42" stroke="#1c1c1c" stroke-width="1"/>
<line x1="411.5" x2="417.5" y1="527" y2="527" stroke="#000" stroke-width="2"/>
<line x1="489.3" x2="684.6" y1="615.5" y2="615.5" stroke="#EEEEEE" stroke-width="1"/><line x1="489.3" x2="684.6" y1="580.5" y2="580.5" stroke="#EEEEEE" stroke-width="1"/><line x1="489.3" x2="684.6" y1="545.5" y2="545.5" stroke="#EEEEEE" stroke-width="1"/><line x1="489.3" x2="684.6" y1="510.5" y2="510.5" stroke="#EEEEEE" stroke-width="1"/><line x1="489.3" x2="684.6" y1="475.5" y2="475.5" stroke="#EEEEEE" stroke-width="1"/><line x1="489.3" x2="684.6" y1="598.5" y2="598.5" stroke="#EEEEEE" stroke-width="1"/><line x1="489.3" x2="684.6" y1="563.5" y2="563.5" stroke="#EEEEEE" stroke-width="1"/><line x1="489.3" x2="684.6" y1="528.5" y2="528.5" stroke="#EEEEEE" stroke-width="1"/><line x1="489.3" x2="684.6" y1="493.5" y2="493.5" stroke="#EEEEEE" stroke-width="1"/><line x1="489.3" x2="684.6" y1="458.5" y2="458.5" stroke="#EEEEEE" stroke-width="1"/><line x1="525" x2="525" y1="453.3" y2="631.8" stroke="#EEEEEE" stroke-width="1"/><line x1="584.1" x2="584.1" y1="453.3" y2="631.8" stroke="#EEEEEE" stroke-width="1"/><line x1="643.2" x2="643.2" y1="453.3" y2="631.8" stroke="#EEEEEE" stroke-width="1"/>
<text transform="translate(481,604.57) scale(0.865,1)" text-anchor="end" font-family="Liberation Sans, sans-serif" font-size="13.9" fill="#3a3a3a">0</text>
<text transform="translate(481,569.61) scale(0.865,1)" text-anchor="end" font-family="Liberation Sans, sans-serif" font-size="13.9" fill="#3a3a3a">5</text>
<text transform="translate(481,534.65) scale(0.865,1)" text-anchor="end" font-family="Liberation Sans, sans-serif" font-size="13.9" fill="#3a3a3a">10</text>
<text transform="translate(481,499.69) scale(0.865,1)" text-anchor="end" font-family="Liberation Sans, sans-serif" font-size="13.9" fill="#3a3a3a">15</text>
<text transform="translate(481,464.73) scale(0.865,1)" text-anchor="end" font-family="Liberation Sans, sans-serif" font-size="13.9" fill="#3a3a3a">20</text>
<text x="586.95" y="446.4" text-anchor="middle" font-family="Liberation Sans, sans-serif" font-weight="bold" font-size="16" fill="#000">SPPB</text>
<path d="M507.1,481.5 L507.56,481.5 L507.56,483.54 L507.48,483.54 L507.48,485.79 L507.41,485.79 L507.41,487.9 L507.52,487.9 L507.52,489.54 L507.7,489.54 L507.7,491.58 L508.09,491.58 L508.09,493.01 L508.57,493.01 L508.57,494.96 L509.15,494.96 L509.15,496.68 L509.97,496.68 L509.97,498.8 L510.72,498.8 L510.72,500.29 L511.28,500.29 L511.28,501.86 L512.07,501.86 L512.07,503.73 L513.26,503.73 L513.26,505.88 L515.24,505.88 L515.24,507.39 L517.56,507.39 L517.56,509.78 L520.13,509.78 L520.13,511.46 L521.61,511.46 L521.61,513.06 L522.48,513.06 L522.48,515.29 L524.76,515.29 L524.76,516.87 L525.72,516.87 L525.72,518.64 L527.22,518.64 L527.22,520.62 L529.16,520.62 L529.16,522.93 L531.36,522.93 L531.36,524.9 L531.53,524.9 L531.53,527.08 L531.8,527.08 L531.8,528.55 L532.41,528.55 L532.41,530.74 L533.79,530.74 L533.79,532.76 L534.34,532.76 L534.34,534.41 L535.71,534.41 L535.71,536.57 L536.22,536.57 L536.22,538.48 L537.87,538.48 L537.87,540.32 L538.06,540.32 L538.06,541.8 L539.18,541.8 L539.18,544.06 L538.47,544.06 L538.47,545.72 L538.24,545.72 L538.24,547.91 L538.29,547.91 L538.29,549.71 L538.78,549.71 L538.78,551.87 L539.15,551.87 L539.15,553.34 L539.4,553.34 L539.4,555.14 L538.53,555.14 L538.53,556.75 L537.86,556.75 L537.86,558.37 L537.33,558.37 L537.33,560.75 L536,560.75 L536,562.73 L534.52,562.73 L534.52,564.97 L532.85,564.97 L532.85,566.99 L532.43,566.99 L532.43,568.74 L530.63,568.74 L530.63,570.53 L528.24,570.53 L528.24,572.43 L526.88,572.43 L526.88,574.38 L525.23,574.38 L525.23,576.43 L523.46,576.43 L523.46,578.7 L522.29,578.7 L522.29,580.67 L521.3,580.67 L521.3,582.25 L519.5,582.25 L519.5,584.04 L517.91,584.04 L517.91,585.84 L516.94,585.84 L516.94,587.46 L515.6,587.46 L515.6,589.6 L514.41,589.6 L514.41,591.98 L513.56,591.98 L513.56,593.39 L512.39,593.39 L512.39,595.21 L511.53,595.21 L511.53,597.37 L510.81,597.37 L510.81,598.85 L509.85,598.85 L509.85,600.79 L509.17,600.79 L509.17,602.71 L508.44,602.71 L508.44,604.15 L507.9,604.15 L507.9,605.8 L507.49,605.8 L507.49,607.68 L507.5,607.68 L507.5,609.2 L507.1,609.2Z" fill="#F07171" stroke="#E95C5C" stroke-width="0.8" stroke-linejoin="round"/>
<rect x="506.7" y="619.8" width="1.3" height="1.8" fill="#E95C5C"/>
<line x1="525" x2="525" y1="479.2" y2="530.5" stroke="#1c1c1c" stroke-width="1.2"/>
<line x1="525" x2="525" y1="563.5" y2="608.4" stroke="#1c1c1c" stroke-width="1.2"/>
<rect x="522" y="530.5" width="6" height="33" fill="#F07171" fill-opacity="0.42" stroke="#1c1c1c" stroke-width="1.3"/>
<line x1="522" x2="528" y1="547" y2="547" stroke="#000" stroke-width="2"/>
<path d="M566.2,489.5 L567.59,489.5 L567.59,491.44 L569.77,491.44 L569.77,493.59 L571.23,493.59 L571.23,495.54 L572.25,495.54 L572.25,497.32 L572.97,497.32 L572.97,499 L574.42,499 L574.42,500.83 L575.89,500.83 L575.89,503.09 L578.4,503.09 L578.4,505.43 L580.38,505.43 L580.38,507.67 L582.4,507.67 L582.4,509.36 L583.57,509.36 L583.57,510.93 L583.67,510.93 L583.67,512.74 L585.23,512.74 L585.23,514.96 L588.81,514.96 L588.81,516.73 L593.2,516.73 L593.2,518.95 L597.74,518.95 L597.74,521.12 L600.45,521.12 L600.45,523.43 L599.71,523.43 L599.71,525.07 L599.14,525.07 L599.14,527.07 L601.03,527.07 L601.03,528.66 L603.64,528.66 L603.64,530.56 L607.11,530.56 L607.11,532 L610.79,532 L610.79,533.97 L614.76,533.97 L614.76,536.11 L617.95,536.11 L617.95,537.8 L617.01,537.8 L617.01,540.18 L611.69,540.18 L611.69,542.24 L608.37,542.24 L608.37,543.82 L605.54,543.82 L605.54,546.01 L603.08,546.01 L603.08,547.78 L601.37,547.78 L601.37,549.39 L599.79,549.39 L599.79,551.53 L599.33,551.53 L599.33,553.07 L596.77,553.07 L596.77,555.06 L591.04,555.06 L591.04,557.39 L583.98,557.39 L583.98,558.99 L578,558.99 L578,560.89 L574.97,560.89 L574.97,562.96 L574.05,562.96 L574.05,564.92 L573.3,564.92 L573.3,566.49 L572.99,566.49 L572.99,568.03 L572.24,568.03 L572.24,570.07 L571.2,570.07 L571.2,571.71 L570.51,571.71 L570.51,573.6 L569.25,573.6 L569.25,575.12 L568.85,575.12 L568.85,576.61 L569.59,576.61 L569.59,578.63 L569.94,578.63 L569.94,580.08 L569.03,580.08 L569.03,582.2 L568.1,582.2 L568.1,584.21 L567.35,584.21 L567.35,586.51 L566.82,586.51 L566.82,587.2 L566.2,587.2Z" fill="#4BDC41" stroke="#3CCF36" stroke-width="0.8" stroke-linejoin="round"/>
<rect x="565.8" y="477.4" width="1.3" height="4.7" fill="#3CCF36"/>
<line x1="584.1" x2="584.1" y1="487" y2="522.5" stroke="#1c1c1c" stroke-width="1.2"/>
<line x1="584.1" x2="584.1" y1="548.5" y2="585.5" stroke="#1c1c1c" stroke-width="1.2"/>
<rect x="581.1" y="522.5" width="6" height="26" fill="#4BDC41" fill-opacity="0.42" stroke="#1c1c1c" stroke-width="1.3"/>
<line x1="581.1" x2="587.1" y1="537" y2="537" stroke="#000" stroke-width="2"/>
<path d="M625.3,474.1 L625.79,474.1 L625.79,475.75 L625.77,475.75 L625.77,477.43 L625.76,477.43 L625.76,479.27 L625.74,479.27 L625.74,481.14 L625.73,481.14 L625.73,482.77 L625.72,482.77 L625.72,484.88 L625.74,484.88 L625.74,487.13 L625.79,487.13 L625.79,489.46 L627.12,489.46 L627.12,491.33 L629.42,491.33 L629.42,493.03 L631.1,493.03 L631.1,494.6 L633.04,494.6 L633.04,496.48 L635,496.48 L635,498.73 L636.74,498.73 L636.74,500.46 L638.82,500.46 L638.82,502.79 L641.22,502.79 L641.22,504.91 L643.01,504.91 L643.01,506.78 L645.47,506.78 L645.47,508.48 L646.7,508.48 L646.7,509.9 L648.65,509.9 L648.65,511.94 L650.94,511.94 L650.94,513.95 L652.47,513.95 L652.47,515.63 L652.85,515.63 L652.85,517.16 L654.1,517.16 L654.1,518.74 L655.83,518.74 L655.83,520.84 L657.84,520.84 L657.84,522.67 L659.23,522.67 L659.23,524.24 L661.94,524.24 L661.94,526.15 L664.76,526.15 L664.76,528.35 L667.86,528.35 L667.86,529.83 L670.39,529.83 L670.39,531.79 L670.42,531.79 L670.42,533.84 L668.27,533.84 L668.27,535.32 L667.34,535.32 L667.34,536.86 L664.31,536.86 L664.31,538.9 L662.25,538.9 L662.25,540.62 L660.97,540.62 L660.97,542.95 L658.56,542.95 L658.56,544.99 L655.49,544.99 L655.49,547.16 L653.72,547.16 L653.72,548.8 L651.43,548.8 L651.43,550.82 L650.21,550.82 L650.21,552.37 L648.11,552.37 L648.11,554.47 L645.47,554.47 L645.47,556.85 L643.74,556.85 L643.74,558.79 L641.99,558.79 L641.99,560.74 L639.42,560.74 L639.42,563.07 L636.65,563.07 L636.65,564.59 L635.03,564.59 L635.03,566.34 L633.36,566.34 L633.36,568.42 L631.76,568.42 L631.76,570.19 L630.21,570.19 L630.21,571.66 L628.83,571.66 L628.83,573.19 L627.54,573.19 L627.54,575.57 L626.77,575.57 L626.77,577.21 L626.47,577.21 L626.47,578.96 L626.39,578.96 L626.39,580.81 L626.45,580.81 L626.45,583.12 L626.49,583.12 L626.49,584.66 L626.5,584.66 L626.5,586.97 L626.41,586.97 L626.41,589.19 L626.29,589.19 L626.29,591.44 L626.15,591.44 L626.15,593.71 L626,593.71 L626,596.07 L625.86,596.07 L625.86,597.9 L625.3,597.9Z" fill="#6EA5FC" stroke="#5B93F7" stroke-width="0.8" stroke-linejoin="round"/>
<line x1="643.2" x2="643.2" y1="479" y2="519.5" stroke="#1c1c1c" stroke-width="1.2"/>
<line x1="643.2" x2="643.2" y1="546.5" y2="585.5" stroke="#1c1c1c" stroke-width="1.2"/>
<rect x="640.2" y="519.5" width="6" height="27" fill="#6EA5FC" fill-opacity="0.42" stroke="#1c1c1c" stroke-width="1.3"/>
<line x1="640.2" x2="646.2" y1="533" y2="533" stroke="#000" stroke-width="2"/>
<line x1="28.9" x2="224.5" y1="818.5" y2="818.5" stroke="#EEEEEE" stroke-width="1"/><line x1="28.9" x2="224.5" y1="779.5" y2="779.5" stroke="#EEEEEE" stroke-width="1"/><line x1="28.9" x2="224.5" y1="740.5" y2="740.5" stroke="#EEEEEE" stroke-width="1"/><line x1="28.9" x2="224.5" y1="702.5" y2="702.5" stroke="#EEEEEE" stroke-width="1"/><line x1="28.9" x2="224.5" y1="837.5" y2="837.5" stroke="#EEEEEE" stroke-width="1"/><line x1="28.9" x2="224.5" y1="798.5" y2="798.5" stroke="#EEEEEE" stroke-width="1"/><line x1="28.9" x2="224.5" y1="760.5" y2="760.5" stroke="#EEEEEE" stroke-width="1"/><line x1="28.9" x2="224.5" y1="721.5" y2="721.5" stroke="#EEEEEE" stroke-width="1"/><line x1="28.9" x2="224.5" y1="683.5" y2="683.5" stroke="#EEEEEE" stroke-width="1"/><line x1="64.5" x2="64.5" y1="669.9" y2="848.5" stroke="#EEEEEE" stroke-width="1"/><line x1="124.5" x2="124.5" y1="669.9" y2="848.5" stroke="#EEEEEE" stroke-width="1"/><line x1="183.5" x2="183.5" y1="669.9" y2="848.5" stroke="#EEEEEE" stroke-width="1"/>
<text transform="translate(21.8,843.98) scale(0.865,1)" text-anchor="end" font-family="Liberation Sans, sans-serif" font-size="13.9" fill="#3a3a3a">0</text>
<text transform="translate(21.8,805.36) scale(0.865,1)" text-anchor="end" font-family="Liberation Sans, sans-serif" font-size="13.9" fill="#3a3a3a">10</text>
<text transform="translate(21.8,766.74) scale(0.865,1)" text-anchor="end" font-family="Liberation Sans, sans-serif" font-size="13.9" fill="#3a3a3a">20</text>
<text transform="translate(21.8,728.12) scale(0.865,1)" text-anchor="end" font-family="Liberation Sans, sans-serif" font-size="13.9" fill="#3a3a3a">30</text>
<text transform="translate(21.8,689.5) scale(0.865,1)" text-anchor="end" font-family="Liberation Sans, sans-serif" font-size="13.9" fill="#3a3a3a">40</text>
<text x="126.7" y="663" text-anchor="middle" font-family="Liberation Sans, sans-serif" font-weight="bold" font-size="16" fill="#000">MMSE</text>
<path d="M46.4,699.2 L46.9,699.2 L46.9,700.66 L46.9,700.66 L46.9,702.5 L46.9,702.5 L46.9,704.33 L46.9,704.33 L46.9,706.03 L46.9,706.03 L46.9,707.43 L46.9,707.43 L46.9,709.25 L46.92,709.25 L46.92,711.03 L47.86,711.03 L47.86,712.8 L48.98,712.8 L48.98,715.03 L49.56,715.03 L49.56,717.17 L50.32,717.17 L50.32,719.48 L50.86,719.48 L50.86,721.26 L51.07,721.26 L51.07,723.47 L51.02,723.47 L51.02,725.45 L51.48,725.45 L51.48,727.14 L52.24,727.14 L52.24,729.36 L53.15,729.36 L53.15,730.96 L53.82,730.96 L53.82,732.73 L55.18,732.73 L55.18,734.89 L56.69,734.89 L56.69,737.23 L58.3,737.23 L58.3,738.94 L59.77,738.94 L59.77,740.66 L61.08,740.66 L61.08,742.24 L61.63,742.24 L61.63,744.44 L63.23,744.44 L63.23,746.28 L64.71,746.28 L64.71,748 L65.8,748 L65.8,749.42 L66.22,749.42 L66.22,751.73 L66.65,751.73 L66.65,753.29 L67.35,753.29 L67.35,755.49 L67.19,755.49 L67.19,757.47 L67.68,757.47 L67.68,759.03 L67.56,759.03 L67.56,761.1 L67.54,761.1 L67.54,762.99 L66.89,762.99 L66.89,765.39 L68.58,765.39 L68.58,767.57 L66.99,767.57 L66.99,769.97 L66.36,769.97 L66.36,771.47 L65.38,771.47 L65.38,773.37 L64.87,773.37 L64.87,775.47 L64.15,775.47 L64.15,777.14 L62.26,777.14 L62.26,779.49 L61.25,779.49 L61.25,780.94 L59.73,780.94 L59.73,783.19 L59.26,783.19 L59.26,784.85 L58.56,784.85 L58.56,786.37 L57.3,786.37 L57.3,788.58 L56.51,788.58 L56.51,790.51 L55.34,790.51 L55.34,792.01 L54.61,792.01 L54.61,793.99 L53.85,793.99 L53.85,795.5 L52.63,795.5 L52.63,797.69 L51.88,797.69 L51.88,799.18 L51.05,799.18 L51.05,800.94 L50.51,800.94 L50.51,802.4 L49.6,802.4 L49.6,804.7 L48.76,804.7 L48.76,807.06 L47.85,807.06 L47.85,808.82 L47.17,808.82 L47.17,810.48 L46.89,810.48 L46.89,812.7 L46.84,812.7 L46.84,814.6 L46.8,814.6 L46.8,816.22 L46.79,816.22 L46.79,817.75 L46.81,817.75 L46.81,819.91 L46.83,819.91 L46.83,822.08 L46.85,822.08 L46.85,823.92 L46.88,823.92 L46.88,825.33 L46.89,825.33 L46.89,826.3 L46.4,826.3Z" fill="#F07171" stroke="#E95C5C" stroke-width="0.8" stroke-linejoin="round"/>
<line x1="64.5" x2="64.5" y1="708.2" y2="747.5" stroke="#1c1c1c" stroke-width="1"/>
<line x1="64.5" x2="64.5" y1="777.5" y2="819.4" stroke="#1c1c1c" stroke-width="1"/>
<rect x="61.5" y="747.5" width="6" height="30" fill="#F07171" fill-opacity="0.42" stroke="#1c1c1c" stroke-width="1"/>
<line x1="61.5" x2="67.5" y1="761" y2="761" stroke="#000" stroke-width="2"/>
<path d="M105.4,696.9 L105.89,696.9 L105.89,698.67 L105.87,698.67 L105.87,700.1 L105.85,700.1 L105.85,702.05 L105.85,702.05 L105.85,703.95 L105.89,703.95 L105.89,705.74 L106.42,705.74 L106.42,707.58 L107.13,707.58 L107.13,709.19 L107.7,709.19 L107.7,710.65 L108.53,710.65 L108.53,712.38 L109.7,712.38 L109.7,714.23 L111.18,714.23 L111.18,715.95 L112.4,715.95 L112.4,718.01 L114.27,718.01 L114.27,720.06 L116.76,720.06 L116.76,722.07 L119.34,722.07 L119.34,723.49 L121.27,723.49 L121.27,725.05 L122.41,725.05 L122.41,726.79 L122.72,726.79 L122.72,728.45 L124.83,728.45 L124.83,730.35 L127.86,730.35 L127.86,732.19 L133.1,732.19 L133.1,734.13 L136.37,734.13 L136.37,736.04 L141.77,736.04 L141.77,738.06 L136.15,738.06 L136.15,740.15 L134.85,740.15 L134.85,742.28 L135.59,742.28 L135.59,743.82 L135.46,743.82 L135.46,745.7 L135.02,745.7 L135.02,747.77 L133.23,747.77 L133.23,750.01 L130.65,750.01 L130.65,752.29 L127.68,752.29 L127.68,754.65 L125.09,754.65 L125.09,756.76 L121.92,756.76 L121.92,758.64 L119.63,758.64 L119.63,760.87 L118.04,760.87 L118.04,763.26 L116.53,763.26 L116.53,765.2 L114.18,765.2 L114.18,767.48 L112.1,767.48 L112.1,769.17 L110.44,769.17 L110.44,770.85 L109.32,770.85 L109.32,772.85 L108.13,772.85 L108.13,774.55 L107,774.55 L107,776.02 L105.99,776.02 L105.99,778.14 L105.79,778.14 L105.79,779.57 L105.8,779.57 L105.8,781.94 L105.87,781.94 L105.87,783.4 L105.4,783.4Z" fill="#4BDC41" stroke="#3CCF36" stroke-width="0.8" stroke-linejoin="round"/>
<line x1="124.5" x2="124.5" y1="707.3" y2="733.5" stroke="#1c1c1c" stroke-width="1"/>
<line x1="124.5" x2="124.5" y1="751.5" y2="777.3" stroke="#1c1c1c" stroke-width="1"/>
<rect x="121.5" y="733.5" width="6" height="18" fill="#4BDC41" fill-opacity="0.42" stroke="#1c1c1c" stroke-width="1"/>
<line x1="121.5" x2="127.5" y1="741" y2="741" stroke="#000" stroke-width="2"/>
<path d="M165.4,696.9 L166.53,696.9 L166.53,698.89 L166.65,698.89 L166.65,700.89 L167.25,700.89 L167.25,702.71 L168.3,702.71 L168.3,704.69 L168.88,704.69 L168.88,706.14 L169.56,706.14 L169.56,708.21 L170.58,708.21 L170.58,710 L172.41,710 L172.41,712.22 L174.62,712.22 L174.62,714.12 L177.29,714.12 L177.29,715.9 L179.7,715.9 L179.7,717.5 L182.19,717.5 L182.19,719.27 L184.32,719.27 L184.32,721.08 L186.42,721.08 L186.42,723.41 L187.95,723.41 L187.95,724.98 L189.76,724.98 L189.76,726.95 L191.72,726.95 L191.72,728.88 L193.56,728.88 L193.56,730.3 L194.44,730.3 L194.44,731.95 L195.73,731.95 L195.73,734.22 L195.28,734.22 L195.28,736.12 L193.04,736.12 L193.04,738.51 L191.25,738.51 L191.25,740.88 L190.17,740.88 L190.17,742.3 L190.24,742.3 L190.24,744.51 L190.06,744.51 L190.06,746.3 L188.8,746.3 L188.8,748.21 L186.38,748.21 L186.38,750.57 L183.4,750.57 L183.4,752.58 L182.28,752.58 L182.28,754 L179.97,754 L179.97,755.49 L177.49,755.49 L177.49,757.01 L175.23,757.01 L175.23,759.13 L173.85,759.13 L173.85,760.61 L172.26,760.61 L172.26,762.66 L170.84,762.66 L170.84,764.08 L169.36,764.08 L169.36,766.29 L168.16,766.29 L168.16,768.09 L167.09,768.09 L167.09,769.82 L166.49,769.82 L166.49,771.93 L166.27,771.93 L166.27,773.79 L166.11,773.79 L166.11,776.17 L165.97,776.17 L165.97,778.39 L165.9,778.39 L165.9,778.4 L165.4,778.4Z" fill="#6EA5FC" stroke="#5B93F7" stroke-width="0.8" stroke-linejoin="round"/>
<line x1="183.5" x2="183.5" y1="696.2" y2="726.5" stroke="#1c1c1c" stroke-width="1"/>
<line x1="183.5" x2="183.5" y1="747.5" y2="777.3" stroke="#1c1c1c" stroke-width="1"/>
<rect x="180.5" y="726.5" width="6" height="21" fill="#6EA5FC" fill-opacity="0.42" stroke="#1c1c1c" stroke-width="1"/>
<line x1="180.5" x2="186.5" y1="736" y2="736" stroke="#000" stroke-width="2"/>
<line x1="260.2" x2="455.6" y1="827.5" y2="827.5" stroke="#EEEEEE" stroke-width="1"/><line x1="260.2" x2="455.6" y1="794.5" y2="794.5" stroke="#EEEEEE" stroke-width="1"/><line x1="260.2" x2="455.6" y1="760.5" y2="760.5" stroke="#EEEEEE" stroke-width="1"/><line x1="260.2" x2="455.6" y1="727.5" y2="727.5" stroke="#EEEEEE" stroke-width="1"/><line x1="260.2" x2="455.6" y1="694.5" y2="694.5" stroke="#EEEEEE" stroke-width="1"/><line x1="260.2" x2="455.6" y1="843.5" y2="843.5" stroke="#EEEEEE" stroke-width="1"/><line x1="260.2" x2="455.6" y1="810.5" y2="810.5" stroke="#EEEEEE" stroke-width="1"/><line x1="260.2" x2="455.6" y1="777.5" y2="777.5" stroke="#EEEEEE" stroke-width="1"/><line x1="260.2" x2="455.6" y1="744.5" y2="744.5" stroke="#EEEEEE" stroke-width="1"/><line x1="260.2" x2="455.6" y1="711.5" y2="711.5" stroke="#EEEEEE" stroke-width="1"/><line x1="260.2" x2="455.6" y1="678.5" y2="678.5" stroke="#EEEEEE" stroke-width="1"/><line x1="296.5" x2="296.5" y1="669.9" y2="848.5" stroke="#EEEEEE" stroke-width="1"/><line x1="355.5" x2="355.5" y1="669.9" y2="848.5" stroke="#EEEEEE" stroke-width="1"/><line x1="414.5" x2="414.5" y1="669.9" y2="848.5" stroke="#EEEEEE" stroke-width="1"/>
<text transform="translate(252.3,850.41) scale(0.865,1)" text-anchor="end" font-family="Liberation Sans, sans-serif" font-size="13.9" fill="#3a3a3a">-10</text>
<text transform="translate(252.3,817.24) scale(0.865,1)" text-anchor="end" font-family="Liberation Sans, sans-serif" font-size="13.9" fill="#3a3a3a">0</text>
<text transform="translate(252.3,784.07) scale(0.865,1)" text-anchor="end" font-family="Liberation Sans, sans-serif" font-size="13.9" fill="#3a3a3a">10</text>
<text transform="translate(252.3,750.9) scale(0.865,1)" text-anchor="end" font-family="Liberation Sans, sans-serif" font-size="13.9" fill="#3a3a3a">20</text>
<text transform="translate(252.3,717.73) scale(0.865,1)" text-anchor="end" font-family="Liberation Sans, sans-serif" font-size="13.9" fill="#3a3a3a">30</text>
<text transform="translate(252.3,684.56) scale(0.865,1)" text-anchor="end" font-family="Liberation Sans, sans-serif" font-size="13.9" fill="#3a3a3a">40</text>
<text x="357.9" y="663" text-anchor="middle" font-family="Liberation Sans, sans-serif" font-weight="bold" font-size="16" fill="#000">MoCA</text>
<path d="M278.8,717.6 L279.29,717.6 L279.29,719.57 L279.26,719.57 L279.26,721.93 L279.26,721.93 L279.26,723.71 L279.34,723.71 L279.34,726.11 L279.71,726.11 L279.71,728.23 L280.34,728.23 L280.34,730.54 L281.15,730.54 L281.15,732.72 L281.51,732.72 L281.51,734.16 L281.59,734.16 L281.59,736.37 L282.39,736.37 L282.39,738.4 L283.05,738.4 L283.05,739.84 L283.5,739.84 L283.5,741.53 L284.39,741.53 L284.39,743.22 L285.59,743.22 L285.59,745.07 L286.58,745.07 L286.58,746.82 L288.15,746.82 L288.15,748.75 L289.21,748.75 L289.21,751.1 L290.31,751.1 L290.31,753.39 L290.9,753.39 L290.9,755.59 L292.45,755.59 L292.45,757.06 L293.76,757.06 L293.76,759.01 L294.58,759.01 L294.58,761.31 L295,761.31 L295,762.79 L295.36,762.79 L295.36,765.03 L295.87,765.03 L295.87,767.1 L295.71,767.1 L295.71,769.1 L295.93,769.1 L295.93,770.93 L295.88,770.93 L295.88,773.2 L296.07,773.2 L296.07,775.53 L295.7,775.53 L295.7,777.48 L296.09,777.48 L296.09,779.18 L294.93,779.18 L294.93,781.24 L294.5,781.24 L294.5,783.19 L293.3,783.19 L293.3,784.75 L291.79,784.75 L291.79,786.58 L290.83,786.58 L290.83,788.84 L289.73,788.84 L289.73,790.89 L288.78,790.89 L288.78,792.93 L286.92,792.93 L286.92,795.21 L285.98,795.21 L285.98,796.87 L285.37,796.87 L285.37,798.81 L284.11,798.81 L284.11,800.6 L283.35,800.6 L283.35,802.36 L282.46,802.36 L282.46,804.08 L281.59,804.08 L281.59,806 L281.01,806 L281.01,808.33 L280.29,808.33 L280.29,809.85 L279.66,809.85 L279.66,811.39 L279.28,811.39 L279.28,813.51 L279.22,813.51 L279.22,815.47 L279.27,815.47 L279.27,817 L278.8,817Z" fill="#F07171" stroke="#E95C5C" stroke-width="0.8" stroke-linejoin="round"/>
<line x1="296.5" x2="296.5" y1="717.8" y2="757.5" stroke="#1c1c1c" stroke-width="1"/>
<line x1="296.5" x2="296.5" y1="784.5" y2="820.4" stroke="#1c1c1c" stroke-width="1"/>
<rect x="293.5" y="757.5" width="6" height="27" fill="#F07171" fill-opacity="0.42" stroke="#1c1c1c" stroke-width="1"/>
<line x1="293.5" x2="299.5" y1="770" y2="770" stroke="#000" stroke-width="2"/>
<path d="M337.8,711 L338.28,711 L338.28,712.42 L338.24,712.42 L338.24,714.8 L338.5,714.8 L338.5,716.86 L339.45,716.86 L339.45,718.36 L340.21,718.36 L340.21,719.79 L341.1,719.79 L341.1,721.6 L341.83,721.6 L341.83,723.31 L343.55,723.31 L343.55,725.58 L342.86,725.58 L342.86,727.95 L344,727.95 L344,730.11 L345.46,730.11 L345.46,732.26 L347.16,732.26 L347.16,734.21 L349.19,734.21 L349.19,735.95 L352.27,735.95 L352.27,737.69 L354.15,737.69 L354.15,739.37 L357.33,739.37 L357.33,741.63 L359.69,741.63 L359.69,743.28 L361.25,743.28 L361.25,745.06 L362.89,745.06 L362.89,747.2 L363.82,747.2 L363.82,748.96 L364.25,748.96 L364.25,751.27 L363.76,751.27 L363.76,753.45 L365.6,753.45 L365.6,755.43 L363.39,755.43 L363.39,757.11 L360.85,757.11 L360.85,759.39 L357.78,759.39 L357.78,760.94 L356.11,760.94 L356.11,763.31 L354.25,763.31 L354.25,764.86 L352.89,764.86 L352.89,767.17 L350.06,767.17 L350.06,769.51 L347.85,769.51 L347.85,771.44 L346.62,771.44 L346.62,773.21 L344.28,773.21 L344.28,775.1 L342.55,775.1 L342.55,777.28 L340.68,777.28 L340.68,779.31 L339.35,779.31 L339.35,781.62 L338.8,781.62 L338.8,783.67 L338.54,783.67 L338.54,785.8 L338.37,785.8 L338.37,787.5 L337.8,787.5Z" fill="#4BDC41" stroke="#3CCF36" stroke-width="0.8" stroke-linejoin="round"/>
<line x1="355.5" x2="355.5" y1="711.7" y2="741.5" stroke="#1c1c1c" stroke-width="1"/>
<line x1="355.5" x2="355.5" y1="762.5" y2="790" stroke="#1c1c1c" stroke-width="1"/>
<rect x="352.5" y="741.5" width="6" height="21" fill="#4BDC41" fill-opacity="0.42" stroke="#1c1c1c" stroke-width="1"/>
<line x1="352.5" x2="358.5" y1="753" y2="753" stroke="#000" stroke-width="2"/>
<path d="M396.6,695.2 L397.02,695.2 L397.02,697.57 L397.13,697.57 L397.13,699.36 L398.47,699.36 L398.47,701.72 L399.17,701.72 L399.17,703.12 L399.78,703.12 L399.78,705.22 L400.35,705.22 L400.35,706.71 L400.85,706.71 L400.85,709.04 L401.42,709.04 L401.42,710.57 L402.29,710.57 L402.29,712.51 L403,712.51 L403,714.15 L404.01,714.15 L404.01,715.85 L404.79,715.85 L404.79,717.39 L405.65,717.39 L405.65,719.73 L407.61,719.73 L407.61,721.28 L409.1,721.28 L409.1,723.47 L411.18,723.47 L411.18,725.51 L412.98,725.51 L412.98,727.28 L413.76,727.28 L413.76,729.5 L414.43,729.5 L414.43,731.5 L415.43,731.5 L415.43,733.89 L416.27,733.89 L416.27,735.71 L416.92,735.71 L416.92,737.17 L417.14,737.17 L417.14,739.05 L417.78,739.05 L417.78,741.03 L419.96,741.03 L419.96,743.37 L418.73,743.37 L418.73,745.33 L417.19,745.33 L417.19,747.19 L415.57,747.19 L415.57,749.47 L414.25,749.47 L414.25,751.18 L412.14,751.18 L412.14,753.56 L411.41,753.56 L411.41,755.74 L409.39,755.74 L409.39,757.79 L408.6,757.79 L408.6,759.6 L406.57,759.6 L406.57,761.96 L405.3,761.96 L405.3,763.72 L403.75,763.72 L403.75,765.83 L401.52,765.83 L401.52,768.15 L400.19,768.15 L400.19,769.94 L399.33,769.94 L399.33,771.91 L398.42,771.91 L398.42,773.4 L397.42,773.4 L397.42,775.69 L397.07,775.69 L397.07,777.97 L397.01,777.97 L397.01,779.58 L397,779.58 L397,781.95 L397.02,781.95 L397.02,783.94 L397.06,783.94 L397.06,786.31 L397.09,786.31 L397.09,787.5 L396.6,787.5Z" fill="#6EA5FC" stroke="#5B93F7" stroke-width="0.8" stroke-linejoin="round"/>
<rect x="396.2" y="682.6" width="1.3" height="1.2" fill="#5B93F7"/>
<line x1="414.5" x2="414.5" y1="692.4" y2="727.5" stroke="#1c1c1c" stroke-width="1"/>
<line x1="414.5" x2="414.5" y1="750.5" y2="785.5" stroke="#1c1c1c" stroke-width="1"/>
<rect x="411.5" y="727.5" width="6" height="23" fill="#6EA5FC" fill-opacity="0.42" stroke="#1c1c1c" stroke-width="1"/>
<line x1="411.5" x2="417.5" y1="739" y2="739" stroke="#000" stroke-width="2"/>
<line x1="489.3" x2="684.6" y1="844.5" y2="844.5" stroke="#EEEEEE" stroke-width="1"/><line x1="489.3" x2="684.6" y1="801.5" y2="801.5" stroke="#EEEEEE" stroke-width="1"/><line x1="489.3" x2="684.6" y1="759.5" y2="759.5" stroke="#EEEEEE" stroke-width="1"/><line x1="489.3" x2="684.6" y1="716.5" y2="716.5" stroke="#EEEEEE" stroke-width="1"/><line x1="489.3" x2="684.6" y1="674.5" y2="674.5" stroke="#EEEEEE" stroke-width="1"/><line x1="489.3" x2="684.6" y1="823.5" y2="823.5" stroke="#EEEEEE" stroke-width="1"/><line x1="489.3" x2="684.6" y1="780.5" y2="780.5" stroke="#EEEEEE" stroke-width="1"/><line x1="489.3" x2="684.6" y1="737.5" y2="737.5" stroke="#EEEEEE" stroke-width="1"/><line x1="489.3" x2="684.6" y1="695.5" y2="695.5" stroke="#EEEEEE" stroke-width="1"/><line x1="525" x2="525" y1="669.9" y2="848.5" stroke="#EEEEEE" stroke-width="1"/><line x1="584.1" x2="584.1" y1="669.9" y2="848.5" stroke="#EEEEEE" stroke-width="1"/><line x1="643.2" x2="643.2" y1="669.9" y2="848.5" stroke="#EEEEEE" stroke-width="1"/>
<text transform="translate(481,829.63) scale(0.865,1)" text-anchor="end" font-family="Liberation Sans, sans-serif" font-size="13.9" fill="#3a3a3a">-10</text>
<text transform="translate(481,787.06) scale(0.865,1)" text-anchor="end" font-family="Liberation Sans, sans-serif" font-size="13.9" fill="#3a3a3a">0</text>
<text transform="translate(481,744.49) scale(0.865,1)" text-anchor="end" font-family="Liberation Sans, sans-serif" font-size="13.9" fill="#3a3a3a">10</text>
<text transform="translate(481,701.91) scale(0.865,1)" text-anchor="end" font-family="Liberation Sans, sans-serif" font-size="13.9" fill="#3a3a3a">20</text>
<text x="586.95" y="663" text-anchor="middle" font-family="Liberation Sans, sans-serif" font-weight="bold" font-size="16" fill="#000">NPI-Q</text>
<path d="M507.1,685.6 L507.6,685.6 L507.6,687.09 L507.6,687.09 L507.6,688.71 L507.6,688.71 L507.6,690.54 L507.6,690.54 L507.6,692.29 L507.48,692.29 L507.48,693.85 L507.98,693.85 L507.98,695.57 L508.63,695.57 L508.63,697.23 L509.24,697.23 L509.24,698.95 L509.94,698.95 L509.94,700.78 L510.57,700.78 L510.57,702.87 L511.03,702.87 L511.03,704.54 L511.67,704.54 L511.67,706.75 L512.58,706.75 L512.58,708.39 L513.08,708.39 L513.08,710.41 L513.85,710.41 L513.85,712 L514.03,712 L514.03,713.66 L514.81,713.66 L514.81,715.5 L515.26,715.5 L515.26,717.63 L516.64,717.63 L516.64,719.8 L517.6,719.8 L517.6,721.38 L518.93,721.38 L518.93,723.65 L520.09,723.65 L520.09,725.44 L521.05,725.44 L521.05,727.15 L521.74,727.15 L521.74,728.58 L523.26,728.58 L523.26,730.22 L524.52,730.22 L524.52,732 L525.55,732 L525.55,733.81 L525.68,733.81 L525.68,736.16 L526.33,736.16 L526.33,738.17 L526.66,738.17 L526.66,739.72 L526.65,739.72 L526.65,741.68 L528.4,741.68 L528.4,743.77 L528.89,743.77 L528.89,745.62 L527.95,745.62 L527.95,747.34 L527.31,747.34 L527.31,749.28 L526.76,749.28 L526.76,751.5 L526.21,751.5 L526.21,753.65 L526.55,753.65 L526.55,755.36 L526.36,755.36 L526.36,757.37 L526.54,757.37 L526.54,759.29 L525.26,759.29 L525.26,761.39 L522.62,761.39 L522.62,763.59 L520.88,763.59 L520.88,765.83 L520.1,765.83 L520.1,768.08 L519.11,768.08 L519.11,770.28 L517.93,770.28 L517.93,771.92 L517.17,771.92 L517.17,774.1 L516.75,774.1 L516.75,775.53 L515.65,775.53 L515.65,777.58 L514.29,777.58 L514.29,779.6 L512.91,779.6 L512.91,781.29 L512.18,781.29 L512.18,782.8 L511.17,782.8 L511.17,784.46 L510.52,784.46 L510.52,786.78 L509.57,786.78 L509.57,789.12 L509.1,789.12 L509.1,791.19 L508.99,791.19 L508.99,792.6 L508.92,792.6 L508.92,794.25 L508.73,794.25 L508.73,796.48 L508.29,796.48 L508.29,798.79 L507.82,798.79 L507.82,800.69 L507.56,800.69 L507.56,803.04 L507.6,803.04 L507.6,805.14 L507.6,805.14 L507.6,806.6 L507.1,806.6Z" fill="#F07171" stroke="#E95C5C" stroke-width="0.8" stroke-linejoin="round"/>
<line x1="525" x2="525" y1="686.3" y2="731.5" stroke="#1c1c1c" stroke-width="1.2"/>
<line x1="525" x2="525" y1="762.5" y2="808.2" stroke="#1c1c1c" stroke-width="1.2"/>
<rect x="522" y="731.5" width="6" height="31" fill="#F07171" fill-opacity="0.42" stroke="#1c1c1c" stroke-width="1.3"/>
<line x1="522" x2="528" y1="745" y2="745" stroke="#000" stroke-width="2"/>
<path d="M566.2,702.2 L566.69,702.2 L566.69,703.74 L566.67,703.74 L566.67,705.91 L566.66,705.91 L566.66,707.99 L566.64,707.99 L566.64,709.73 L566.68,709.73 L566.68,711.98 L566.8,711.98 L566.8,713.74 L567.45,713.74 L567.45,715.27 L568.35,715.27 L568.35,717.23 L569.57,717.23 L569.57,719.1 L570.88,719.1 L570.88,720.58 L572.65,720.58 L572.65,722.93 L574.3,722.93 L574.3,725.19 L575.99,725.19 L575.99,726.65 L577.93,726.65 L577.93,728.86 L578.87,728.86 L578.87,730.44 L580.42,730.44 L580.42,732.44 L581.61,732.44 L581.61,734.21 L582.86,734.21 L582.86,735.85 L583.81,735.85 L583.81,738.06 L584.72,738.06 L584.72,739.68 L585.35,739.68 L585.35,741.19 L586.1,741.19 L586.1,743.12 L587.1,743.12 L587.1,745.3 L588.62,745.3 L588.62,746.87 L590.39,746.87 L590.39,748.97 L593.29,748.97 L593.29,750.63 L594.61,750.63 L594.61,753.02 L593.52,753.02 L593.52,754.61 L592.5,754.61 L592.5,756.05 L590.28,756.05 L590.28,758.13 L587.57,758.13 L587.57,760.4 L586.96,760.4 L586.96,762.45 L585.96,762.45 L585.96,764.52 L585.56,764.52 L585.56,766.65 L583.83,766.65 L583.83,768.5 L581.99,768.5 L581.99,770.78 L581.19,770.78 L581.19,773.03 L580.14,773.03 L580.14,775.11 L578.55,775.11 L578.55,777.51 L576.65,777.51 L576.65,779.37 L575.63,779.37 L575.63,781.24 L574.55,781.24 L574.55,782.98 L573.35,782.98 L573.35,784.68 L571.84,784.68 L571.84,786.75 L570.39,786.75 L570.39,789.07 L569.16,789.07 L569.16,790.65 L568.33,790.65 L568.33,792.18 L567.73,792.18 L567.73,793.91 L567.13,793.91 L567.13,795.89 L566.78,795.89 L566.78,798.2 L566.68,798.2 L566.68,799.67 L566.65,799.67 L566.65,801.8 L566.65,801.8 L566.65,803.46 L566.67,803.46 L566.67,805.28 L566.68,805.28 L566.68,807.11 L566.7,807.11 L566.7,807.6 L566.2,807.6Z" fill="#4BDC41" stroke="#3CCF36" stroke-width="0.8" stroke-linejoin="round"/>
<rect x="565.8" y="811.3" width="1.3" height="7.1" fill="#3CCF36"/>
<line x1="584.1" x2="584.1" y1="702.1" y2="739.5" stroke="#1c1c1c" stroke-width="1.2"/>
<line x1="584.1" x2="584.1" y1="767.5" y2="803.8" stroke="#1c1c1c" stroke-width="1.2"/>
<rect x="581.1" y="739.5" width="6" height="28" fill="#4BDC41" fill-opacity="0.42" stroke="#1c1c1c" stroke-width="1.3"/>
<line x1="581.1" x2="587.1" y1="754" y2="754" stroke="#000" stroke-width="2"/>
<path d="M625.3,692.6 L625.77,692.6 L625.77,694.33 L625.73,694.33 L625.73,695.76 L625.73,695.76 L625.73,697.25 L625.8,697.25 L625.8,699.14 L626.07,699.14 L626.07,701.3 L626.43,701.3 L626.43,703 L626.81,703 L626.81,704.91 L627.29,704.91 L627.29,707.18 L627.77,707.18 L627.77,709.51 L628.45,709.51 L628.45,711.59 L629.3,711.59 L629.3,713.3 L629.94,713.3 L629.94,715.59 L630.86,715.59 L630.86,717.83 L631.62,717.83 L631.62,719.82 L632.43,719.82 L632.43,721.29 L632.92,721.29 L632.92,723.45 L633.68,723.45 L633.68,725.17 L634.54,725.17 L634.54,726.78 L635.9,726.78 L635.9,729.15 L637.01,729.15 L637.01,731.39 L638.68,731.39 L638.68,733.69 L640.58,733.69 L640.58,735.32 L640.92,735.32 L640.92,737.16 L643.11,737.16 L643.11,739.08 L643.47,739.08 L643.47,741.1 L643.78,741.1 L643.78,742.98 L644.64,742.98 L644.64,744.56 L645.4,744.56 L645.4,746.55 L645.33,746.55 L645.33,748.45 L645.58,748.45 L645.58,750.45 L645.46,750.45 L645.46,752.84 L645.05,752.84 L645.05,755.19 L644.71,755.19 L644.71,757.31 L644.9,757.31 L644.9,758.76 L644.39,758.76 L644.39,760.65 L644.71,760.65 L644.71,762.69 L643.87,762.69 L643.87,764.6 L644.07,764.6 L644.07,766.26 L643.08,766.26 L643.08,768.13 L642.29,768.13 L642.29,769.89 L641.97,769.89 L641.97,771.91 L641.54,771.91 L641.54,773.82 L639.7,773.82 L639.7,776.19 L638.78,776.19 L638.78,777.59 L638.33,777.59 L638.33,779.03 L637.78,779.03 L637.78,781.03 L636.17,781.03 L636.17,782.61 L635.72,782.61 L635.72,784.1 L634.82,784.1 L634.82,785.8 L633.04,785.8 L633.04,788.06 L631.85,788.06 L631.85,789.86 L630.69,789.86 L630.69,791.88 L629.38,791.88 L629.38,794.05 L628.69,794.05 L628.69,796.2 L628.13,796.2 L628.13,798.25 L627.79,798.25 L627.79,800.27 L627.4,800.27 L627.4,802.29 L627,802.29 L627,803.9 L626.68,803.9 L626.68,805.66 L626.21,805.66 L626.21,807.5 L625.83,807.5 L625.83,809.78 L625.78,809.78 L625.78,812.15 L625.76,812.15 L625.76,813.68 L625.75,813.68 L625.75,815.28 L625.76,815.28 L625.76,817.44 L625.77,817.44 L625.77,819.62 L625.78,819.62 L625.78,821.34 L625.79,821.34 L625.79,822.92 L625.8,822.92 L625.8,823.6 L625.3,823.6Z" fill="#6EA5FC" stroke="#5B93F7" stroke-width="0.8" stroke-linejoin="round"/>
<rect x="624.9" y="686.1" width="1.3" height="1.2" fill="#5B93F7"/>
<line x1="643.2" x2="643.2" y1="696.5" y2="739.5" stroke="#1c1c1c" stroke-width="1.2"/>
<line x1="643.2" x2="643.2" y1="772.5" y2="819.4" stroke="#1c1c1c" stroke-width="1.2"/>
<rect x="640.2" y="739.5" width="6" height="33" fill="#6EA5FC" fill-opacity="0.42" stroke="#1c1c1c" stroke-width="1.3"/>
<line x1="640.2" x2="646.2" y1="755" y2="755" stroke="#000" stroke-width="2"/>
<text transform="translate(63.7,867.2) scale(0.93,1)" text-anchor="middle" font-family="Liberation Sans, sans-serif" font-size="13.4" fill="#3a3a3a">A</text>
<text transform="translate(123.6,867.2) scale(0.93,1)" text-anchor="middle" font-family="Liberation Sans, sans-serif" font-size="13.4" fill="#3a3a3a">B</text>
<text transform="translate(182.7,867.2) scale(0.93,1)" text-anchor="middle" font-family="Liberation Sans, sans-serif" font-size="13.4" fill="#3a3a3a">C</text>
<text transform="translate(295.7,867.2) scale(0.93,1)" text-anchor="middle" font-family="Liberation Sans, sans-serif" font-size="13.4" fill="#3a3a3a">A</text>
<text transform="translate(355,867.2) scale(0.93,1)" text-anchor="middle" font-family="Liberation Sans, sans-serif" font-size="13.4" fill="#3a3a3a">B</text>
<text transform="translate(414,867.2) scale(0.93,1)" text-anchor="middle" font-family="Liberation Sans, sans-serif" font-size="13.4" fill="#3a3a3a">C</text>
<text transform="translate(524.2,867.2) scale(0.93,1)" text-anchor="middle" font-family="Liberation Sans, sans-serif" font-size="13.4" fill="#3a3a3a">A</text>
<text transform="translate(583.3,867.2) scale(0.93,1)" text-anchor="middle" font-family="Liberation Sans, sans-serif" font-size="13.4" fill="#3a3a3a">B</text>
<text transform="translate(642.4,867.2) scale(0.93,1)" text-anchor="middle" font-family="Liberation Sans, sans-serif" font-size="13.4" fill="#3a3a3a">C</text>
<text x="356.1" y="886.8" text-anchor="middle" font-family="Liberation Sans, sans-serif" font-size="16" fill="#111">NCD severity</text>
</svg>
</body></html>
